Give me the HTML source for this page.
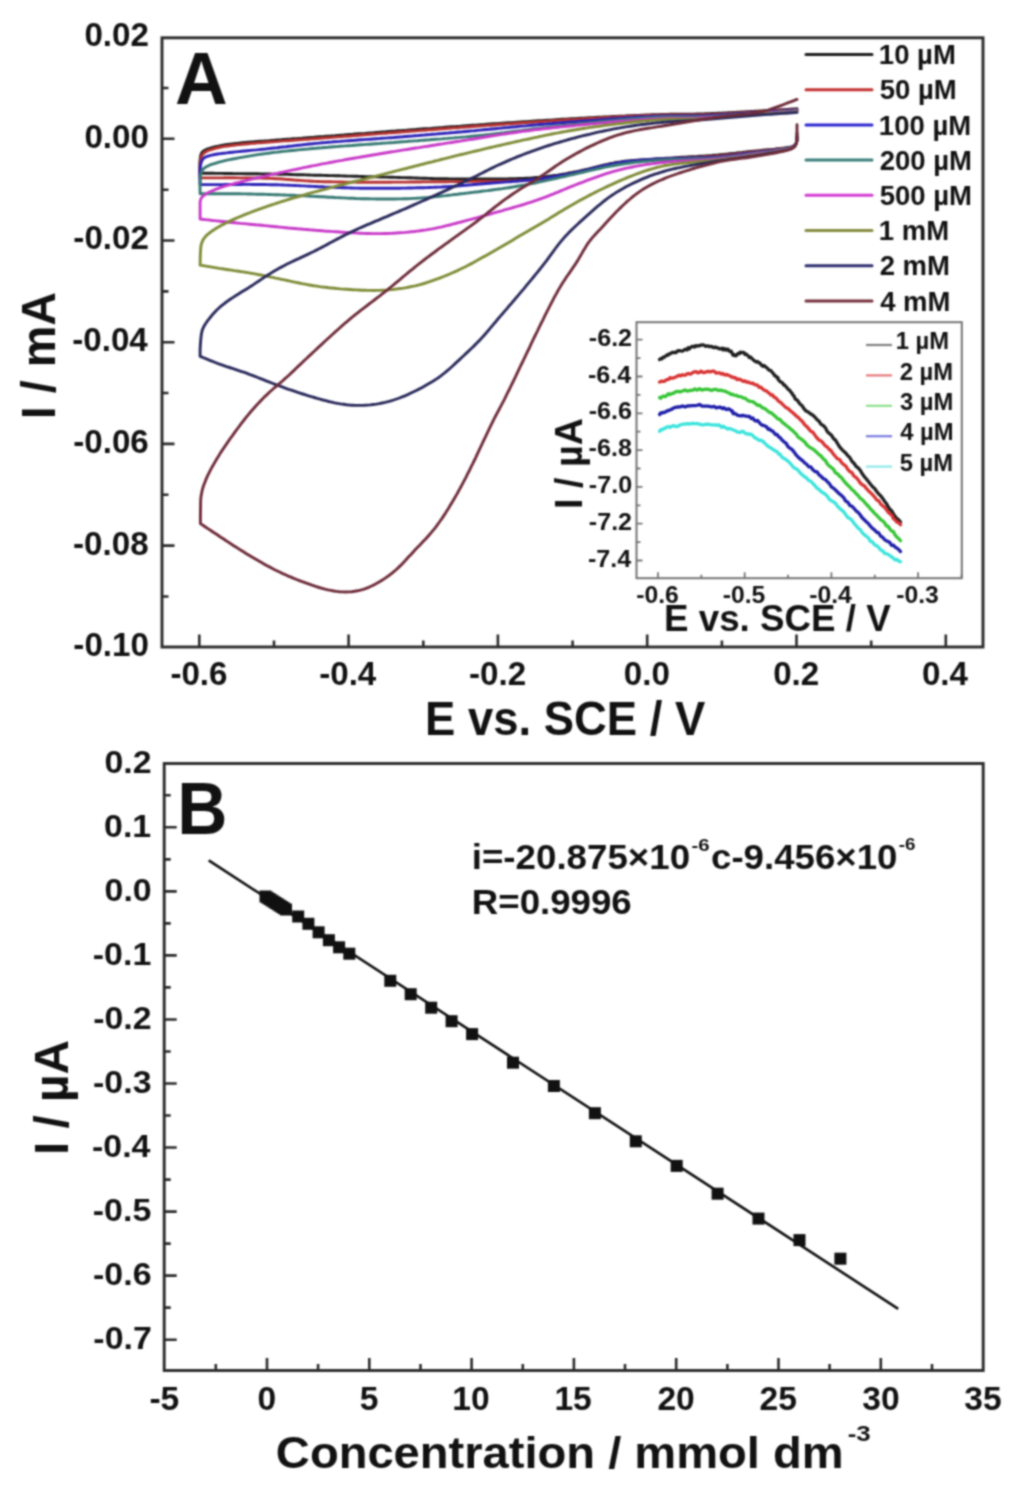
<!DOCTYPE html>
<html><head><meta charset="utf-8"><title>figure</title>
<style>html,body{margin:0;padding:0;background:#fff;}svg{display:block;}</style>
</head><body>
<svg width="1022" height="1501" viewBox="0 0 1022 1501">
<defs><filter id="soft" x="0" y="0" width="1022" height="1501" filterUnits="userSpaceOnUse" color-interpolation-filters="sRGB"><feConvolveMatrix order="5" kernelMatrix="0.00087 0.00695 0.01388 0.00695 0.00087 0.00695 0.05540 0.11068 0.05540 0.00695 0.01388 0.11068 0.22111 0.11068 0.01388 0.00695 0.05540 0.11068 0.05540 0.00695 0.00087 0.00695 0.01388 0.00695 0.00087" edgeMode="duplicate" preserveAlpha="true"/></filter></defs>
<rect width="1022" height="1501" fill="#ffffff"/>
<g filter="url(#soft)">
<rect width="1022" height="1501" fill="#ffffff"/>
<path d="M199.3,647 v-12.5 M348.6,647 v-12.5 M497.9,647 v-12.5 M647.2,647 v-12.5 M796.5,647 v-12.5 M945.8,647 v-12.5 M274.0,647 v-6.5 M423.3,647 v-6.5 M572.6,647 v-6.5 M721.9,647 v-6.5 M871.2,647 v-6.5 M162,138.8 h12.5 M162,240.5 h12.5 M162,342.2 h12.5 M162,443.9 h12.5 M162,545.6 h12.5 M162,88.0 h6.5 M162,189.7 h6.5 M162,291.4 h6.5 M162,393.0 h6.5 M162,494.8 h6.5 M162,596.5 h6.5" stroke="#2a2a2a" stroke-width="2.6" fill="none"/>
<text font-family="'Liberation Sans', sans-serif" font-weight="bold" font-size="33.50" fill="#111" transform="translate(84.38,46.00) scale(0.9900,1)">0.02</text>
<text font-family="'Liberation Sans', sans-serif" font-weight="bold" font-size="33.50" fill="#111" transform="translate(84.41,147.70) scale(0.9900,1)">0.00</text>
<text font-family="'Liberation Sans', sans-serif" font-weight="bold" font-size="33.50" fill="#111" transform="translate(73.34,249.40) scale(0.9900,1)">-0.02</text>
<text font-family="'Liberation Sans', sans-serif" font-weight="bold" font-size="33.50" fill="#111" transform="translate(72.19,351.10) scale(0.9900,1)">-0.04</text>
<text font-family="'Liberation Sans', sans-serif" font-weight="bold" font-size="33.50" fill="#111" transform="translate(73.21,452.80) scale(0.9900,1)">-0.06</text>
<text font-family="'Liberation Sans', sans-serif" font-weight="bold" font-size="33.50" fill="#111" transform="translate(73.03,554.50) scale(0.9900,1)">-0.08</text>
<text font-family="'Liberation Sans', sans-serif" font-weight="bold" font-size="33.50" fill="#111" transform="translate(73.37,656.20) scale(0.9900,1)">-0.10</text>
<text font-family="'Liberation Sans', sans-serif" font-weight="bold" font-size="33.50" fill="#111" transform="translate(170.38,685.00) scale(0.9900,1)">-0.6</text>
<text font-family="'Liberation Sans', sans-serif" font-weight="bold" font-size="33.50" fill="#111" transform="translate(319.17,685.00) scale(0.9900,1)">-0.4</text>
<text font-family="'Liberation Sans', sans-serif" font-weight="bold" font-size="33.50" fill="#111" transform="translate(469.04,685.00) scale(0.9900,1)">-0.2</text>
<text font-family="'Liberation Sans', sans-serif" font-weight="bold" font-size="33.50" fill="#111" transform="translate(623.87,685.00) scale(0.9900,1)">0.0</text>
<text font-family="'Liberation Sans', sans-serif" font-weight="bold" font-size="33.50" fill="#111" transform="translate(773.16,685.00) scale(0.9900,1)">0.2</text>
<text font-family="'Liberation Sans', sans-serif" font-weight="bold" font-size="33.50" fill="#111" transform="translate(921.88,685.00) scale(0.9900,1)">0.4</text>
<text font-family="'Liberation Sans', sans-serif" font-weight="bold" font-size="48.30" fill="#111" transform="translate(425.06,735.00) scale(0.9410,1)">E vs. SCE / V</text>
<g transform="rotate(-90)"><text font-family="'Liberation Sans', sans-serif" font-weight="bold" font-size="48.70" fill="#111" transform="translate(-419.13,55.00) scale(0.9600,1)">I / mA</text></g>
<text font-family="'Liberation Sans', sans-serif" font-weight="bold" font-size="73.80" fill="#111" transform="translate(175.08,103.60) scale(0.9880,1)">A</text>
<path d="M797.0,136.0 L797.0,140.0 L796.4,142.9 L794.9,145.3 L792.3,146.6 L789.4,147.3 L786.4,147.7 L783.4,148.1 L780.5,148.5 L777.5,148.8 L774.5,149.2 L771.5,149.5 L768.5,149.7 L765.5,150.0 L762.6,150.3 L759.6,150.6 L756.6,150.9 L753.6,151.2 L750.6,151.5 L747.6,151.8 L744.6,152.1 L741.7,152.5 L738.7,152.8 L735.7,153.2 L732.7,153.5 L729.7,153.8 L726.8,154.1 L723.8,154.4 L720.8,154.7 L717.8,155.0 L714.8,155.2 L711.8,155.5 L708.8,155.7 L705.8,155.9 L702.8,156.1 L699.8,156.3 L696.9,156.5 L693.9,156.6 L690.9,156.8 L687.9,157.0 L684.9,157.2 L681.9,157.3 L678.9,157.5 L675.9,157.7 L672.9,157.9 L669.9,158.1 L666.9,158.2 L663.9,158.4 L660.9,158.6 L657.9,158.8 L654.9,159.0 L651.9,159.2 L648.9,159.4 L646.0,159.6 L643.0,159.8 L640.0,160.0 L637.0,160.2 L634.0,160.4 L631.0,160.7 L628.0,161.0 L625.0,161.3 L622.1,161.7 L619.1,162.1 L616.1,162.5 L613.2,163.1 L610.2,163.6 L607.3,164.3 L604.4,164.9 L601.5,165.6 L598.5,166.3 L595.6,167.1 L592.7,167.8 L589.8,168.6 L586.9,169.3 L584.0,170.0 L581.1,170.6 L578.1,171.3 L575.2,171.9 L572.3,172.5 L569.3,173.0 L566.4,173.6 L563.4,174.1 L560.4,174.6 L557.5,175.1 L554.5,175.5 L551.6,175.9 L548.6,176.3 L545.6,176.7 L542.6,177.0 L539.6,177.3 L536.6,177.5 L533.7,177.8 L530.7,178.0 L527.7,178.1 L524.7,178.3 L521.7,178.4 L518.7,178.5 L515.7,178.6 L512.7,178.7 L509.7,178.8 L506.7,178.9 L503.7,178.9 L500.7,178.9 L497.7,179.0 L494.7,179.0 L491.7,179.0 L488.7,179.0 L485.7,179.0 L482.7,179.0 L479.7,179.0 L476.7,179.0 L473.7,179.0 L470.7,179.0 L467.7,179.0 L464.7,179.0 L461.7,179.0 L458.7,179.0 L455.7,179.0 L452.7,178.9 L449.7,178.9 L446.7,178.8 L443.7,178.8 L440.7,178.7 L437.7,178.6 L434.7,178.6 L431.7,178.5 L428.7,178.4 L425.7,178.3 L422.7,178.2 L419.7,178.1 L416.7,178.0 L413.7,177.9 L410.7,177.8 L407.7,177.7 L404.7,177.6 L401.7,177.6 L398.7,177.5 L395.7,177.4 L392.7,177.3 L389.7,177.2 L386.7,177.1 L383.7,177.1 L380.7,177.0 L377.7,176.9 L374.7,176.8 L371.7,176.7 L368.7,176.6 L365.7,176.6 L362.7,176.5 L359.7,176.4 L356.7,176.3 L353.7,176.2 L350.7,176.1 L347.7,176.1 L344.7,176.0 L341.7,175.9 L338.7,175.8 L335.7,175.7 L332.7,175.6 L329.7,175.6 L326.7,175.5 L323.7,175.4 L320.7,175.3 L317.7,175.2 L314.7,175.2 L311.7,175.1 L308.7,175.0 L305.7,174.9 L302.7,174.8 L299.7,174.7 L296.7,174.7 L293.7,174.6 L290.7,174.5 L287.7,174.4 L284.7,174.3 L281.8,174.3 L278.8,174.2 L275.8,174.1 L272.8,174.1 L269.8,174.0 L266.8,174.0 L263.8,173.9 L260.8,173.9 L257.8,173.8 L254.8,173.8 L251.8,173.7 L248.8,173.7 L245.8,173.7 L242.8,173.6 L239.8,173.6 L236.8,173.6 L233.8,173.6 L230.8,173.5 L227.8,173.5 L224.8,173.5 L221.8,173.4 L218.8,173.4 L215.8,173.4 L212.8,173.3 L209.8,173.3 L206.8,173.2 L203.8,173.2 L200.8,173.0 L200.1,173.0 L200.0,170.0 L200.0,167.0 L199.9,164.0 L200.0,161.0 L200.3,158.0 L200.8,155.1 L202.0,152.4 L204.2,150.5 L206.9,149.2 L209.7,148.3 L212.6,147.4 L215.5,146.7 L218.5,146.1 L221.4,145.5 L224.4,145.0 L227.3,144.5 L230.3,144.1 L233.3,143.8 L236.3,143.4 L239.2,143.1 L242.2,142.8 L245.2,142.5 L248.2,142.2 L251.2,142.0 L254.2,141.8 L257.2,141.5 L260.2,141.3 L263.2,141.1 L266.1,140.9 L269.1,140.7 L272.1,140.4 L275.1,140.2 L278.1,140.0 L281.1,139.8 L284.1,139.5 L287.1,139.3 L290.1,139.1 L293.1,138.8 L296.1,138.6 L299.1,138.4 L302.0,138.2 L305.0,137.9 L308.0,137.7 L311.0,137.5 L314.0,137.3 L317.0,137.0 L320.0,136.8 L323.0,136.6 L326.0,136.3 L329.0,136.1 L332.0,135.9 L334.9,135.7 L337.9,135.4 L340.9,135.2 L343.9,135.0 L346.9,134.7 L349.9,134.5 L352.9,134.3 L355.9,134.0 L358.9,133.8 L361.9,133.6 L364.9,133.4 L367.9,133.1 L370.8,132.9 L373.8,132.7 L376.8,132.4 L379.8,132.2 L382.8,132.0 L385.8,131.8 L388.8,131.5 L391.8,131.3 L394.8,131.1 L397.8,130.8 L400.8,130.6 L403.7,130.4 L406.7,130.2 L409.7,129.9 L412.7,129.7 L415.7,129.5 L418.7,129.2 L421.7,129.0 L424.7,128.8 L427.7,128.6 L430.7,128.4 L433.7,128.1 L436.7,127.9 L439.6,127.7 L442.6,127.5 L445.6,127.2 L448.6,127.0 L451.6,126.8 L454.6,126.6 L457.6,126.4 L460.6,126.2 L463.6,125.9 L466.6,125.7 L469.6,125.5 L472.6,125.3 L475.6,125.1 L478.5,124.9 L481.5,124.7 L484.5,124.5 L487.5,124.2 L490.5,124.0 L493.5,123.8 L496.5,123.6 L499.5,123.4 L502.5,123.2 L505.5,123.0 L508.5,122.8 L511.5,122.6 L514.5,122.4 L517.4,122.2 L520.4,122.0 L523.4,121.8 L526.4,121.6 L529.4,121.4 L532.4,121.2 L535.4,121.0 L538.4,120.8 L541.4,120.6 L544.4,120.4 L547.4,120.2 L550.4,120.1 L553.4,119.9 L556.4,119.7 L559.4,119.5 L562.4,119.3 L565.4,119.2 L568.4,119.0 L571.3,118.8 L574.3,118.7 L577.3,118.5 L580.3,118.3 L583.3,118.2 L586.3,118.0 L589.3,117.8 L592.3,117.7 L595.3,117.5 L598.3,117.3 L601.3,117.2 L604.3,117.0 L607.3,116.9 L610.3,116.7 L613.3,116.5 L616.3,116.4 L619.3,116.2 L622.3,116.1 L625.3,116.0 L628.3,115.8 L631.3,115.7 L634.3,115.5 L637.3,115.4 L640.3,115.3 L643.3,115.1 L646.2,115.0 L649.2,114.9 L652.2,114.8 L655.2,114.7 L658.2,114.6 L661.2,114.5 L664.2,114.4 L667.2,114.4 L670.2,114.3 L673.2,114.3 L676.2,114.3 L679.2,114.2 L682.2,114.2 L685.2,114.2 L688.2,114.2 L691.2,114.1 L694.2,114.1 L697.2,114.0 L700.2,113.9 L703.2,113.9 L706.2,113.7 L709.2,113.6 L712.2,113.5 L715.2,113.4 L718.2,113.2 L721.2,113.1 L724.2,112.9 L727.2,112.8 L730.2,112.6 L733.2,112.4 L736.2,112.3 L739.2,112.1 L742.2,111.9 L745.2,111.8 L748.2,111.6 L751.2,111.4 L754.2,111.3 L757.2,111.1 L760.2,110.9 L763.1,110.8 L766.1,110.6 L769.1,110.4 L772.1,110.3 L775.1,110.1 L778.1,109.9 L781.1,109.7 L784.1,109.6 L787.1,109.4 L790.1,109.2 L793.1,109.0 L796.1,108.9 L797.0,108.8" stroke="#1e1e1e" stroke-width="2.9" fill="none" stroke-linejoin="round" stroke-linecap="round"/>
<path d="M797.0,137.0 L797.0,140.0 L796.4,142.9 L794.9,145.3 L792.4,146.8 L789.5,147.6 L786.6,148.1 L783.6,148.5 L780.6,148.9 L777.7,149.3 L774.7,149.7 L771.7,150.0 L768.7,150.4 L765.7,150.7 L762.8,151.0 L759.8,151.3 L756.8,151.6 L753.8,151.9 L750.8,152.3 L747.9,152.6 L744.9,153.0 L741.9,153.3 L738.9,153.7 L735.9,154.1 L733.0,154.4 L730.0,154.8 L727.0,155.1 L724.0,155.4 L721.0,155.7 L718.0,155.9 L715.0,156.2 L712.1,156.4 L709.1,156.6 L706.1,156.8 L703.1,157.0 L700.1,157.1 L697.1,157.3 L694.1,157.5 L691.1,157.6 L688.1,157.8 L685.1,157.9 L682.1,158.0 L679.1,158.2 L676.1,158.3 L673.1,158.5 L670.1,158.7 L667.1,158.9 L664.1,159.0 L661.1,159.2 L658.1,159.4 L655.2,159.6 L652.2,159.8 L649.2,160.0 L646.2,160.3 L643.2,160.5 L640.2,160.7 L637.2,160.9 L634.2,161.2 L631.2,161.5 L628.2,161.8 L625.3,162.2 L622.3,162.6 L619.3,163.0 L616.4,163.5 L613.4,164.1 L610.5,164.7 L607.6,165.3 L604.6,166.0 L601.7,166.7 L598.8,167.5 L595.9,168.3 L593.0,169.0 L590.1,169.8 L587.2,170.6 L584.3,171.3 L581.4,172.0 L578.5,172.7 L575.6,173.3 L572.6,173.9 L569.7,174.6 L566.8,175.1 L563.8,175.7 L560.9,176.2 L557.9,176.8 L554.9,177.3 L552.0,177.7 L549.0,178.1 L546.0,178.5 L543.1,178.9 L540.1,179.2 L537.1,179.5 L534.1,179.8 L531.1,180.0 L528.1,180.2 L525.1,180.4 L522.1,180.5 L519.1,180.7 L516.1,180.8 L513.1,180.9 L510.1,180.9 L507.1,181.0 L504.1,181.1 L501.1,181.1 L498.1,181.2 L495.1,181.2 L492.1,181.2 L489.1,181.3 L486.1,181.3 L483.1,181.3 L480.1,181.3 L477.1,181.3 L474.1,181.4 L471.1,181.4 L468.1,181.4 L465.1,181.4 L462.1,181.5 L459.1,181.5 L456.1,181.6 L453.1,181.6 L450.1,181.6 L447.1,181.7 L444.1,181.7 L441.1,181.7 L438.1,181.8 L435.1,181.8 L432.1,181.8 L429.1,181.9 L426.1,181.9 L423.1,181.9 L420.1,182.0 L417.1,182.0 L414.2,182.0 L411.2,182.0 L408.2,182.1 L405.2,182.1 L402.2,182.1 L399.2,182.1 L396.2,182.1 L393.2,182.1 L390.2,182.2 L387.2,182.2 L384.2,182.2 L381.2,182.2 L378.2,182.2 L375.2,182.2 L372.2,182.2 L369.2,182.2 L366.2,182.2 L363.2,182.2 L360.2,182.2 L357.2,182.2 L354.2,182.1 L351.2,182.1 L348.2,182.1 L345.2,182.1 L342.2,182.0 L339.2,182.0 L336.2,181.9 L333.2,181.9 L330.2,181.8 L327.2,181.8 L324.2,181.7 L321.2,181.6 L318.2,181.5 L315.2,181.4 L312.2,181.2 L309.2,181.0 L306.2,180.9 L303.2,180.6 L300.2,180.4 L297.2,180.2 L294.2,180.0 L291.2,179.7 L288.2,179.5 L285.2,179.3 L282.2,179.0 L279.3,178.8 L276.3,178.7 L273.3,178.5 L270.3,178.4 L267.3,178.3 L264.3,178.2 L261.3,178.1 L258.3,178.0 L255.3,178.0 L252.3,178.0 L249.3,177.9 L246.3,177.9 L243.3,177.9 L240.3,177.9 L237.3,177.9 L234.3,177.8 L231.3,177.8 L228.3,177.8 L225.3,177.8 L222.3,177.9 L219.3,177.9 L216.3,177.9 L213.3,177.9 L210.3,177.9 L207.3,177.9 L204.3,177.9 L201.3,177.9 L200.1,177.9 L200.0,174.9 L200.0,171.9 L199.9,168.9 L199.9,165.9 L200.1,162.9 L200.5,159.9 L201.2,157.0 L202.6,154.4 L204.7,152.4 L207.3,150.9 L210.1,149.8 L213.0,149.0 L215.9,148.2 L218.8,147.5 L221.7,146.9 L224.7,146.4 L227.6,146.0 L230.6,145.6 L233.6,145.2 L236.6,144.9 L239.5,144.6 L242.5,144.3 L245.5,144.0 L248.5,143.7 L251.5,143.4 L254.5,143.2 L257.5,142.9 L260.5,142.7 L263.5,142.5 L266.4,142.3 L269.4,142.0 L272.4,141.8 L275.4,141.6 L278.4,141.4 L281.4,141.1 L284.4,140.9 L287.4,140.7 L290.4,140.5 L293.4,140.3 L296.4,140.0 L299.4,139.8 L302.3,139.6 L305.3,139.4 L308.3,139.2 L311.3,138.9 L314.3,138.7 L317.3,138.5 L320.3,138.3 L323.3,138.0 L326.3,137.8 L329.3,137.6 L332.3,137.4 L335.3,137.1 L338.2,136.9 L341.2,136.7 L344.2,136.4 L347.2,136.2 L350.2,136.0 L353.2,135.7 L356.2,135.5 L359.2,135.3 L362.2,135.0 L365.2,134.8 L368.2,134.6 L371.1,134.3 L374.1,134.1 L377.1,133.9 L380.1,133.6 L383.1,133.4 L386.1,133.2 L389.1,132.9 L392.1,132.7 L395.1,132.5 L398.1,132.2 L401.1,132.0 L404.0,131.8 L407.0,131.5 L410.0,131.3 L413.0,131.1 L416.0,130.9 L419.0,130.6 L422.0,130.4 L425.0,130.2 L428.0,129.9 L431.0,129.7 L434.0,129.5 L437.0,129.2 L439.9,129.0 L442.9,128.8 L445.9,128.6 L448.9,128.3 L451.9,128.1 L454.9,127.9 L457.9,127.7 L460.9,127.4 L463.9,127.2 L466.9,127.0 L469.9,126.8 L472.8,126.5 L475.8,126.3 L478.8,126.1 L481.8,125.9 L484.8,125.6 L487.8,125.4 L490.8,125.2 L493.8,125.0 L496.8,124.8 L499.8,124.5 L502.8,124.3 L505.8,124.1 L508.8,123.9 L511.7,123.7 L514.7,123.4 L517.7,123.2 L520.7,123.0 L523.7,122.8 L526.7,122.6 L529.7,122.4 L532.7,122.2 L535.7,122.0 L538.7,121.8 L541.7,121.6 L544.7,121.4 L547.7,121.2 L550.6,121.0 L553.6,120.8 L556.6,120.6 L559.6,120.4 L562.6,120.2 L565.6,120.0 L568.6,119.8 L571.6,119.6 L574.6,119.5 L577.6,119.3 L580.6,119.1 L583.6,118.9 L586.6,118.7 L589.6,118.5 L592.6,118.4 L595.6,118.2 L598.6,118.0 L601.6,117.8 L604.5,117.6 L607.5,117.5 L610.5,117.3 L613.5,117.1 L616.5,117.0 L619.5,116.8 L622.5,116.6 L625.5,116.5 L628.5,116.3 L631.5,116.2 L634.5,116.0 L637.5,115.9 L640.5,115.8 L643.5,115.6 L646.5,115.5 L649.5,115.4 L652.5,115.3 L655.5,115.2 L658.5,115.1 L661.5,115.0 L664.5,115.0 L667.5,114.9 L670.5,114.9 L673.5,114.9 L676.5,114.9 L679.5,115.0 L682.5,115.0 L685.5,115.0 L688.5,115.0 L691.5,115.0 L694.5,115.0 L697.5,115.0 L700.5,114.9 L703.5,114.8 L706.5,114.7 L709.5,114.6 L712.5,114.5 L715.5,114.3 L718.5,114.1 L721.5,114.0 L724.4,113.8 L727.4,113.6 L730.4,113.4 L733.4,113.2 L736.4,113.0 L739.4,112.9 L742.4,112.7 L745.4,112.5 L748.4,112.3 L751.4,112.1 L754.4,111.9 L757.4,111.8 L760.4,111.6 L763.4,111.4 L766.4,111.2 L769.4,111.1 L772.4,110.9 L775.4,110.7 L778.3,110.5 L781.3,110.3 L784.3,110.2 L787.3,110.0 L790.3,109.8 L793.3,109.6 L796.3,109.4 L797.0,109.4" stroke="#b73232" stroke-width="2.9" fill="none" stroke-linejoin="round" stroke-linecap="round"/>
<path d="M797.0,138.0 L797.0,140.0 L796.4,142.9 L795.0,145.4 L792.6,147.0 L789.7,147.9 L786.8,148.5 L783.8,148.9 L780.8,149.4 L777.9,149.8 L774.9,150.2 L771.9,150.6 L768.9,151.0 L766.0,151.3 L763.0,151.7 L760.0,152.0 L757.0,152.4 L754.0,152.7 L751.1,153.1 L748.1,153.5 L745.1,153.8 L742.1,154.2 L739.2,154.6 L736.2,155.0 L733.2,155.4 L730.2,155.7 L727.3,156.1 L724.3,156.4 L721.3,156.6 L718.3,156.9 L715.3,157.1 L712.3,157.3 L709.3,157.4 L706.3,157.6 L703.3,157.7 L700.3,157.8 L697.3,157.9 L694.3,157.9 L691.3,158.0 L688.3,158.1 L685.3,158.1 L682.3,158.2 L679.3,158.3 L676.3,158.4 L673.3,158.5 L670.3,158.6 L667.3,158.7 L664.3,158.8 L661.3,159.0 L658.3,159.1 L655.4,159.3 L652.4,159.5 L649.4,159.7 L646.4,159.9 L643.4,160.1 L640.4,160.3 L637.4,160.6 L634.4,160.9 L631.4,161.2 L628.4,161.5 L625.5,161.8 L622.5,162.2 L619.5,162.7 L616.6,163.2 L613.6,163.7 L610.7,164.3 L607.8,164.9 L604.8,165.6 L601.9,166.3 L599.0,167.0 L596.1,167.8 L593.2,168.5 L590.3,169.3 L587.4,170.0 L584.5,170.7 L581.6,171.4 L578.6,172.0 L575.7,172.7 L572.8,173.3 L569.8,173.9 L566.9,174.4 L563.9,175.0 L561.0,175.5 L558.0,176.0 L555.1,176.5 L552.1,177.0 L549.1,177.4 L546.2,177.9 L543.2,178.3 L540.2,178.7 L537.2,179.1 L534.3,179.4 L531.3,179.8 L528.3,180.1 L525.3,180.4 L522.3,180.7 L519.3,180.9 L516.3,181.2 L513.4,181.4 L510.4,181.7 L507.4,181.9 L504.4,182.1 L501.4,182.4 L498.4,182.6 L495.4,182.8 L492.4,183.0 L489.4,183.3 L486.4,183.5 L483.4,183.7 L480.5,184.0 L477.5,184.2 L474.5,184.5 L471.5,184.8 L468.5,185.0 L465.5,185.3 L462.5,185.5 L459.5,185.8 L456.5,186.0 L453.6,186.3 L450.6,186.5 L447.6,186.7 L444.6,186.8 L441.6,187.0 L438.6,187.1 L435.6,187.2 L432.6,187.4 L429.6,187.5 L426.6,187.6 L423.6,187.7 L420.6,187.7 L417.6,187.8 L414.6,187.9 L411.6,188.0 L408.6,188.0 L405.6,188.1 L402.6,188.1 L399.6,188.2 L396.6,188.2 L393.6,188.2 L390.6,188.2 L387.6,188.3 L384.6,188.3 L381.6,188.3 L378.6,188.3 L375.6,188.3 L372.6,188.3 L369.6,188.3 L366.6,188.2 L363.6,188.2 L360.6,188.2 L357.6,188.1 L354.6,188.1 L351.6,188.0 L348.6,187.9 L345.6,187.8 L342.6,187.7 L339.6,187.6 L336.6,187.5 L333.6,187.4 L330.6,187.2 L327.6,187.1 L324.6,187.0 L321.6,186.8 L318.6,186.7 L315.6,186.5 L312.6,186.4 L309.6,186.2 L306.6,186.1 L303.6,185.9 L300.6,185.8 L297.7,185.6 L294.7,185.5 L291.7,185.4 L288.7,185.2 L285.7,185.1 L282.7,185.0 L279.7,184.9 L276.7,184.8 L273.7,184.7 L270.7,184.7 L267.7,184.6 L264.7,184.5 L261.7,184.5 L258.7,184.5 L255.7,184.5 L252.7,184.5 L249.7,184.4 L246.7,184.4 L243.7,184.4 L240.7,184.5 L237.7,184.5 L234.7,184.5 L231.7,184.5 L228.7,184.5 L225.7,184.5 L222.7,184.6 L219.7,184.6 L216.7,184.6 L213.7,184.6 L210.7,184.6 L207.7,184.6 L204.7,184.6 L201.7,184.5 L200.1,184.4 L200.0,181.4 L199.9,178.4 L199.8,175.4 L199.8,172.4 L200.0,169.4 L200.3,166.4 L200.9,163.5 L201.8,160.7 L203.5,158.3 L206.0,156.8 L208.8,155.8 L211.7,155.1 L214.7,154.5 L217.6,154.0 L220.6,153.6 L223.6,153.2 L226.6,152.9 L229.6,152.5 L232.5,152.2 L235.5,151.9 L238.5,151.6 L241.5,151.3 L244.5,151.0 L247.5,150.7 L250.4,150.4 L253.4,150.1 L256.4,149.9 L259.4,149.6 L262.4,149.3 L265.4,149.0 L268.4,148.6 L271.3,148.3 L274.3,148.0 L277.3,147.7 L280.3,147.3 L283.3,147.0 L286.2,146.7 L289.2,146.3 L292.2,146.0 L295.2,145.6 L298.2,145.3 L301.1,145.0 L304.1,144.6 L307.1,144.3 L310.1,144.0 L313.1,143.7 L316.1,143.4 L319.1,143.1 L322.0,142.8 L325.0,142.6 L328.0,142.3 L331.0,142.1 L334.0,141.8 L337.0,141.6 L340.0,141.4 L343.0,141.1 L346.0,140.9 L349.0,140.7 L351.9,140.5 L354.9,140.3 L357.9,140.0 L360.9,139.8 L363.9,139.6 L366.9,139.4 L369.9,139.2 L372.9,139.0 L375.9,138.8 L378.9,138.6 L381.9,138.3 L384.9,138.1 L387.9,137.9 L390.8,137.7 L393.8,137.5 L396.8,137.2 L399.8,137.0 L402.8,136.8 L405.8,136.5 L408.8,136.3 L411.8,136.1 L414.8,135.8 L417.8,135.6 L420.8,135.3 L423.7,135.1 L426.7,134.8 L429.7,134.6 L432.7,134.3 L435.7,134.1 L438.7,133.8 L441.7,133.6 L444.7,133.3 L447.7,133.1 L450.6,132.8 L453.6,132.6 L456.6,132.3 L459.6,132.0 L462.6,131.8 L465.6,131.5 L468.6,131.2 L471.6,130.9 L474.6,130.7 L477.5,130.4 L480.5,130.1 L483.5,129.8 L486.5,129.5 L489.5,129.3 L492.5,129.0 L495.5,128.7 L498.4,128.4 L501.4,128.1 L504.4,127.8 L507.4,127.6 L510.4,127.3 L513.4,127.0 L516.4,126.7 L519.4,126.4 L522.3,126.1 L525.3,125.9 L528.3,125.6 L531.3,125.3 L534.3,125.0 L537.3,124.8 L540.3,124.5 L543.3,124.2 L546.2,124.0 L549.2,123.7 L552.2,123.5 L555.2,123.2 L558.2,123.0 L561.2,122.7 L564.2,122.5 L567.2,122.3 L570.2,122.0 L573.2,121.8 L576.1,121.6 L579.1,121.3 L582.1,121.1 L585.1,120.8 L588.1,120.6 L591.1,120.4 L594.1,120.2 L597.1,119.9 L600.1,119.7 L603.1,119.5 L606.1,119.3 L609.0,119.0 L612.0,118.8 L615.0,118.6 L618.0,118.4 L621.0,118.2 L624.0,118.0 L627.0,117.8 L630.0,117.6 L633.0,117.4 L636.0,117.2 L639.0,117.0 L642.0,116.9 L645.0,116.7 L648.0,116.6 L651.0,116.4 L654.0,116.3 L657.0,116.2 L660.0,116.1 L663.0,116.0 L666.0,115.9 L669.0,115.9 L672.0,115.9 L675.0,115.9 L678.0,115.9 L681.0,116.0 L683.9,116.0 L686.9,116.0 L689.9,116.0 L692.9,116.0 L695.9,116.0 L698.9,115.9 L701.9,115.9 L704.9,115.8 L707.9,115.6 L710.9,115.5 L713.9,115.3 L716.9,115.1 L719.9,115.0 L722.9,114.8 L725.9,114.6 L728.9,114.3 L731.9,114.1 L734.9,113.9 L737.9,113.7 L740.9,113.5 L743.9,113.3 L746.9,113.1 L749.9,112.9 L752.8,112.7 L755.8,112.5 L758.8,112.4 L761.8,112.2 L764.8,112.0 L767.8,111.8 L770.8,111.6 L773.8,111.4 L776.8,111.2 L779.8,111.1 L782.8,110.9 L785.8,110.7 L788.8,110.5 L791.8,110.3 L794.8,110.1 L797.0,110.0" stroke="#2c22b8" stroke-width="2.9" fill="none" stroke-linejoin="round" stroke-linecap="round"/>
<path d="M797.0,139.0 L797.0,140.0 L796.4,142.9 L795.1,145.5 L792.7,147.2 L789.9,148.2 L787.0,148.8 L784.0,149.3 L781.0,149.8 L778.1,150.3 L775.1,150.7 L772.1,151.2 L769.2,151.6 L766.2,151.9 L763.2,152.3 L760.2,152.7 L757.3,153.1 L754.3,153.5 L751.3,153.9 L748.3,154.3 L745.4,154.7 L742.4,155.1 L739.4,155.5 L736.5,155.9 L733.5,156.3 L730.5,156.6 L727.5,157.0 L724.5,157.3 L721.6,157.6 L718.6,157.8 L715.6,158.1 L712.6,158.3 L709.6,158.4 L706.6,158.6 L703.6,158.7 L700.6,158.8 L697.6,158.8 L694.6,158.9 L691.6,159.0 L688.6,159.0 L685.6,159.1 L682.6,159.1 L679.6,159.2 L676.6,159.3 L673.6,159.4 L670.6,159.5 L667.6,159.6 L664.6,159.8 L661.6,160.0 L658.6,160.2 L655.6,160.4 L652.7,160.6 L649.7,160.9 L646.7,161.2 L643.7,161.4 L640.7,161.8 L637.7,162.1 L634.7,162.4 L631.8,162.8 L628.8,163.2 L625.8,163.6 L622.9,164.1 L619.9,164.5 L616.9,165.0 L614.0,165.5 L611.0,166.1 L608.1,166.6 L605.1,167.2 L602.2,167.8 L599.3,168.5 L596.3,169.1 L593.4,169.8 L590.5,170.4 L587.6,171.1 L584.6,171.8 L581.7,172.5 L578.8,173.2 L575.9,173.8 L573.0,174.5 L570.0,175.2 L567.1,175.9 L564.2,176.6 L561.3,177.2 L558.3,177.9 L555.4,178.5 L552.5,179.2 L549.6,179.8 L546.6,180.4 L543.7,181.1 L540.8,181.7 L537.8,182.3 L534.9,183.0 L532.0,183.6 L529.0,184.1 L526.1,184.7 L523.1,185.3 L520.2,185.8 L517.2,186.3 L514.2,186.8 L511.3,187.2 L508.3,187.7 L505.3,188.1 L502.4,188.6 L499.4,189.0 L496.4,189.4 L493.5,189.8 L490.5,190.2 L487.5,190.6 L484.5,190.9 L481.6,191.3 L478.6,191.7 L475.6,192.0 L472.6,192.4 L469.6,192.8 L466.7,193.1 L463.7,193.5 L460.7,193.8 L457.7,194.2 L454.8,194.5 L451.8,194.9 L448.8,195.2 L445.8,195.6 L442.8,195.9 L439.9,196.3 L436.9,196.6 L433.9,196.9 L430.9,197.2 L427.9,197.5 L424.9,197.7 L421.9,197.9 L418.9,198.1 L415.9,198.3 L412.9,198.4 L410.0,198.6 L407.0,198.7 L404.0,198.8 L401.0,198.9 L398.0,198.9 L395.0,199.0 L392.0,199.0 L389.0,199.0 L386.0,199.0 L383.0,199.0 L380.0,199.0 L377.0,199.0 L374.0,198.9 L371.0,198.9 L368.0,198.8 L365.0,198.8 L362.0,198.7 L359.0,198.6 L356.0,198.5 L353.0,198.3 L350.0,198.2 L347.0,198.1 L344.0,197.9 L341.0,197.8 L338.0,197.6 L335.0,197.5 L332.0,197.3 L329.0,197.2 L326.0,197.0 L323.0,196.8 L320.0,196.7 L317.0,196.5 L314.0,196.4 L311.0,196.2 L308.0,196.0 L305.0,195.9 L302.0,195.7 L299.0,195.6 L296.0,195.5 L293.0,195.3 L290.0,195.2 L287.1,195.1 L284.1,195.0 L281.1,194.9 L278.1,194.8 L275.1,194.7 L272.1,194.6 L269.1,194.5 L266.1,194.4 L263.1,194.3 L260.1,194.2 L257.1,194.2 L254.1,194.1 L251.1,194.0 L248.1,194.0 L245.1,193.9 L242.1,193.9 L239.1,193.8 L236.1,193.8 L233.1,193.7 L230.1,193.7 L227.1,193.7 L224.1,193.7 L221.1,193.7 L218.1,193.7 L215.1,193.7 L212.1,193.7 L209.1,193.7 L206.1,193.7 L203.1,193.7 L200.1,193.7 L200.1,190.7 L200.0,187.7 L200.0,184.7 L200.0,181.7 L200.2,178.7 L200.4,175.7 L201.0,172.8 L202.2,170.1 L204.3,168.0 L206.8,166.5 L209.5,165.2 L212.4,164.2 L215.2,163.3 L218.1,162.4 L221.0,161.6 L223.9,160.9 L226.8,160.2 L229.8,159.6 L232.7,159.0 L235.6,158.5 L238.6,157.9 L241.5,157.4 L244.5,156.9 L247.4,156.4 L250.4,155.9 L253.4,155.4 L256.3,154.9 L259.3,154.4 L262.3,154.0 L265.2,153.6 L268.2,153.2 L271.2,152.8 L274.2,152.4 L277.1,152.1 L280.1,151.7 L283.1,151.4 L286.1,151.1 L289.1,150.8 L292.0,150.5 L295.0,150.2 L298.0,149.9 L301.0,149.6 L304.0,149.3 L307.0,149.1 L310.0,148.8 L313.0,148.5 L315.9,148.3 L318.9,148.0 L321.9,147.8 L324.9,147.5 L327.9,147.3 L330.9,147.0 L333.9,146.8 L336.9,146.6 L339.9,146.3 L342.9,146.1 L345.9,145.9 L348.8,145.7 L351.8,145.5 L354.8,145.2 L357.8,145.0 L360.8,144.8 L363.8,144.6 L366.8,144.4 L369.8,144.2 L372.8,144.0 L375.8,143.8 L378.8,143.6 L381.8,143.3 L384.8,143.1 L387.7,142.9 L390.7,142.7 L393.7,142.5 L396.7,142.2 L399.7,142.0 L402.7,141.8 L405.7,141.6 L408.7,141.3 L411.7,141.1 L414.7,140.9 L417.7,140.7 L420.7,140.4 L423.6,140.2 L426.6,140.0 L429.6,139.8 L432.6,139.5 L435.6,139.3 L438.6,139.1 L441.6,138.9 L444.6,138.6 L447.6,138.4 L450.6,138.1 L453.6,137.9 L456.5,137.6 L459.5,137.4 L462.5,137.1 L465.5,136.9 L468.5,136.6 L471.5,136.3 L474.5,136.0 L477.5,135.7 L480.4,135.4 L483.4,135.1 L486.4,134.8 L489.4,134.5 L492.4,134.1 L495.3,133.8 L498.3,133.4 L501.3,133.0 L504.3,132.7 L507.3,132.3 L510.2,131.9 L513.2,131.5 L516.2,131.1 L519.2,130.7 L522.1,130.4 L525.1,130.0 L528.1,129.6 L531.1,129.2 L534.0,128.8 L537.0,128.5 L540.0,128.1 L543.0,127.7 L545.9,127.4 L548.9,127.0 L551.9,126.7 L554.9,126.4 L557.9,126.0 L560.9,125.7 L563.8,125.4 L566.8,125.1 L569.8,124.8 L572.8,124.5 L575.8,124.2 L578.8,123.9 L581.7,123.5 L584.7,123.2 L587.7,122.9 L590.7,122.7 L593.7,122.4 L596.7,122.1 L599.7,121.8 L602.6,121.5 L605.6,121.2 L608.6,120.9 L611.6,120.6 L614.6,120.4 L617.6,120.1 L620.6,119.8 L623.6,119.6 L626.5,119.3 L629.5,119.1 L632.5,118.8 L635.5,118.6 L638.5,118.4 L641.5,118.2 L644.5,117.9 L647.5,117.7 L650.5,117.6 L653.5,117.4 L656.5,117.2 L659.5,117.1 L662.5,117.0 L665.5,116.9 L668.5,116.9 L671.5,116.8 L674.5,116.9 L677.5,116.9 L680.5,116.9 L683.5,117.0 L686.5,117.0 L689.5,117.0 L692.5,117.0 L695.5,117.0 L698.4,116.9 L701.4,116.9 L704.4,116.8 L707.4,116.6 L710.4,116.5 L713.4,116.3 L716.4,116.1 L719.4,115.9 L722.4,115.7 L725.4,115.4 L728.4,115.2 L731.4,115.0 L734.4,114.8 L737.4,114.5 L740.4,114.3 L743.4,114.1 L746.3,113.9 L749.3,113.7 L752.3,113.5 L755.3,113.3 L758.3,113.1 L761.3,112.9 L764.3,112.7 L767.3,112.5 L770.3,112.3 L773.3,112.1 L776.3,111.9 L779.3,111.7 L782.3,111.5 L785.3,111.3 L788.3,111.2 L791.2,111.0 L794.2,110.8 L797.0,110.6" stroke="#387a74" stroke-width="2.9" fill="none" stroke-linejoin="round" stroke-linecap="round"/>
<path d="M797.0,140.0 L797.0,140.0 L796.4,142.9 L795.1,145.5 L792.8,147.4 L790.1,148.5 L787.2,149.2 L784.2,149.7 L781.3,150.3 L778.3,150.8 L775.3,151.3 L772.4,151.7 L769.4,152.2 L766.4,152.6 L763.5,153.0 L760.5,153.4 L757.5,153.8 L754.6,154.2 L751.6,154.6 L748.6,155.0 L745.6,155.5 L742.7,155.9 L739.7,156.3 L736.7,156.7 L733.8,157.1 L730.8,157.5 L727.8,157.9 L724.8,158.2 L721.8,158.5 L718.9,158.8 L715.9,159.1 L712.9,159.3 L709.9,159.6 L706.9,159.8 L703.9,159.9 L700.9,160.1 L697.9,160.2 L694.9,160.4 L691.9,160.5 L688.9,160.6 L685.9,160.8 L682.9,160.9 L679.9,161.1 L676.9,161.2 L673.9,161.4 L671.0,161.7 L668.0,161.9 L665.0,162.2 L662.0,162.5 L659.0,162.8 L656.0,163.2 L653.1,163.6 L650.1,164.0 L647.1,164.4 L644.2,164.9 L641.2,165.4 L638.2,165.9 L635.3,166.4 L632.4,167.0 L629.4,167.6 L626.5,168.2 L623.6,168.9 L620.6,169.6 L617.7,170.3 L614.8,171.1 L612.0,171.9 L609.1,172.8 L606.2,173.7 L603.4,174.6 L600.5,175.6 L597.7,176.6 L594.9,177.6 L592.1,178.6 L589.2,179.6 L586.4,180.7 L583.6,181.8 L580.8,182.8 L578.0,183.9 L575.2,185.0 L572.4,186.1 L569.7,187.2 L566.9,188.3 L564.1,189.5 L561.3,190.6 L558.6,191.8 L555.8,192.9 L553.0,194.1 L550.2,195.2 L547.4,196.3 L544.6,197.4 L541.8,198.4 L539.0,199.4 L536.2,200.4 L533.3,201.4 L530.5,202.3 L527.6,203.2 L524.8,204.1 L521.9,205.0 L519.0,205.8 L516.1,206.7 L513.3,207.5 L510.4,208.3 L507.5,209.1 L504.6,209.9 L501.7,210.8 L498.8,211.6 L495.9,212.4 L493.1,213.2 L490.2,214.0 L487.3,214.9 L484.4,215.7 L481.5,216.5 L478.6,217.3 L475.7,218.1 L472.8,218.9 L469.9,219.7 L467.0,220.4 L464.1,221.2 L461.2,222.0 L458.3,222.7 L455.4,223.5 L452.5,224.2 L449.6,225.0 L446.7,225.7 L443.8,226.4 L440.9,227.1 L437.9,227.7 L435.0,228.3 L432.1,228.9 L429.1,229.4 L426.1,229.9 L423.2,230.3 L420.2,230.7 L417.2,231.1 L414.3,231.5 L411.3,231.8 L408.3,232.1 L405.3,232.4 L402.3,232.6 L399.3,232.8 L396.3,233.0 L393.3,233.2 L390.3,233.4 L387.3,233.5 L384.3,233.5 L381.3,233.6 L378.3,233.6 L375.3,233.6 L372.3,233.6 L369.3,233.5 L366.3,233.5 L363.4,233.4 L360.4,233.2 L357.4,233.1 L354.4,232.9 L351.4,232.8 L348.4,232.6 L345.4,232.4 L342.4,232.2 L339.4,232.0 L336.4,231.8 L333.4,231.6 L330.4,231.4 L327.4,231.2 L324.4,231.0 L321.4,230.7 L318.4,230.5 L315.5,230.3 L312.5,230.0 L309.5,229.8 L306.5,229.5 L303.5,229.3 L300.5,229.0 L297.5,228.8 L294.5,228.5 L291.5,228.2 L288.6,228.0 L285.6,227.7 L282.6,227.4 L279.6,227.1 L276.6,226.8 L273.6,226.5 L270.6,226.2 L267.7,225.9 L264.7,225.6 L261.7,225.3 L258.7,225.0 L255.7,224.8 L252.7,224.5 L249.7,224.2 L246.7,223.9 L243.8,223.6 L240.8,223.4 L237.8,223.1 L234.8,222.8 L231.8,222.5 L228.8,222.2 L225.9,221.8 L222.9,221.5 L219.9,221.2 L216.9,220.9 L213.9,220.6 L210.9,220.3 L208.0,219.9 L205.0,219.6 L202.0,219.3 L200.1,219.1 L200.1,216.1 L200.1,213.1 L200.1,210.1 L200.1,207.1 L200.1,204.1 L200.2,201.1 L201.1,198.4 L203.0,196.1 L205.4,194.3 L207.9,192.8 L210.6,191.5 L213.4,190.3 L216.2,189.2 L219.0,188.1 L221.8,187.1 L224.7,186.2 L227.5,185.4 L230.4,184.6 L233.3,183.8 L236.2,183.0 L239.1,182.3 L242.0,181.5 L244.9,180.8 L247.9,180.1 L250.8,179.4 L253.7,178.7 L256.6,178.0 L259.5,177.3 L262.5,176.7 L265.4,176.0 L268.3,175.3 L271.2,174.7 L274.2,174.0 L277.1,173.4 L280.0,172.7 L283.0,172.1 L285.9,171.5 L288.8,170.8 L291.8,170.2 L294.7,169.6 L297.6,169.0 L300.6,168.3 L303.5,167.7 L306.4,167.1 L309.4,166.5 L312.3,165.9 L315.3,165.4 L318.2,164.8 L321.1,164.2 L324.1,163.6 L327.0,163.1 L330.0,162.5 L332.9,162.0 L335.9,161.4 L338.8,160.9 L341.8,160.4 L344.7,159.8 L347.7,159.3 L350.7,158.8 L353.6,158.3 L356.6,157.8 L359.5,157.2 L362.5,156.7 L365.4,156.2 L368.4,155.7 L371.4,155.2 L374.3,154.7 L377.3,154.3 L380.2,153.8 L383.2,153.3 L386.2,152.8 L389.1,152.3 L392.1,151.8 L395.0,151.4 L398.0,150.9 L401.0,150.4 L403.9,149.9 L406.9,149.5 L409.8,149.0 L412.8,148.5 L415.8,148.0 L418.7,147.6 L421.7,147.1 L424.7,146.6 L427.6,146.2 L430.6,145.7 L433.6,145.2 L436.5,144.8 L439.5,144.3 L442.4,143.9 L445.4,143.4 L448.4,142.9 L451.3,142.5 L454.3,142.0 L457.3,141.5 L460.2,141.1 L463.2,140.6 L466.2,140.1 L469.1,139.6 L472.1,139.2 L475.0,138.7 L478.0,138.2 L481.0,137.7 L483.9,137.3 L486.9,136.8 L489.8,136.3 L492.8,135.8 L495.8,135.4 L498.7,134.9 L501.7,134.4 L504.7,134.0 L507.6,133.5 L510.6,133.1 L513.6,132.7 L516.5,132.3 L519.5,131.8 L522.5,131.4 L525.5,131.0 L528.4,130.7 L531.4,130.3 L534.4,129.9 L537.4,129.5 L540.3,129.2 L543.3,128.8 L546.3,128.5 L549.3,128.2 L552.3,127.8 L555.2,127.5 L558.2,127.2 L561.2,126.9 L564.2,126.6 L567.2,126.3 L570.2,126.0 L573.2,125.7 L576.1,125.4 L579.1,125.1 L582.1,124.8 L585.1,124.5 L588.1,124.2 L591.1,123.9 L594.1,123.7 L597.0,123.4 L600.0,123.1 L603.0,122.9 L606.0,122.6 L609.0,122.3 L612.0,122.1 L615.0,121.8 L618.0,121.6 L621.0,121.3 L623.9,121.1 L626.9,120.9 L629.9,120.6 L632.9,120.4 L635.9,120.2 L638.9,120.0 L641.9,119.7 L644.9,119.5 L647.9,119.3 L650.9,119.2 L653.9,119.0 L656.9,118.8 L659.9,118.7 L662.9,118.5 L665.9,118.4 L668.9,118.3 L671.9,118.3 L674.9,118.2 L677.9,118.2 L680.9,118.2 L683.9,118.2 L686.9,118.2 L689.9,118.2 L692.9,118.1 L695.9,118.1 L698.8,118.0 L701.8,117.8 L704.8,117.7 L707.8,117.5 L710.8,117.3 L713.8,117.1 L716.8,116.9 L719.8,116.7 L722.8,116.5 L725.8,116.2 L728.8,116.0 L731.8,115.7 L734.8,115.5 L737.7,115.3 L740.7,115.0 L743.7,114.8 L746.7,114.6 L749.7,114.3 L752.7,114.1 L755.7,113.9 L758.7,113.7 L761.7,113.5 L764.7,113.3 L767.7,113.1 L770.7,112.9 L773.7,112.7 L776.7,112.5 L779.6,112.3 L782.6,112.1 L785.6,111.9 L788.6,111.7 L791.6,111.6 L794.6,111.4 L797.0,111.2" stroke="#c93bc9" stroke-width="2.9" fill="none" stroke-linejoin="round" stroke-linecap="round"/>
<path d="M797.0,140.0 L797.0,140.0 L796.4,142.9 L795.2,145.6 L793.0,147.5 L790.3,148.7 L787.4,149.5 L784.4,150.1 L781.5,150.7 L778.5,151.2 L775.6,151.8 L772.6,152.3 L769.7,152.7 L766.7,153.2 L763.7,153.6 L760.8,154.1 L757.8,154.5 L754.8,154.9 L751.9,155.4 L748.9,155.8 L745.9,156.2 L743.0,156.6 L740.0,157.1 L737.0,157.5 L734.0,157.9 L731.1,158.3 L728.1,158.7 L725.1,159.1 L722.1,159.4 L719.2,159.8 L716.2,160.1 L713.2,160.5 L710.2,160.8 L707.2,161.0 L704.2,161.3 L701.3,161.5 L698.3,161.8 L695.3,162.0 L692.3,162.3 L689.3,162.5 L686.3,162.8 L683.3,163.1 L680.3,163.4 L677.4,163.7 L674.4,164.1 L671.4,164.6 L668.5,165.0 L665.5,165.5 L662.6,166.1 L659.6,166.8 L656.7,167.5 L653.8,168.3 L651.0,169.1 L648.1,170.0 L645.2,170.9 L642.4,171.9 L639.6,172.9 L636.8,173.9 L634.0,175.0 L631.2,176.1 L628.4,177.2 L625.6,178.4 L622.9,179.5 L620.1,180.7 L617.4,181.9 L614.6,183.1 L611.9,184.4 L609.1,185.6 L606.4,186.9 L603.7,188.2 L601.0,189.5 L598.3,190.8 L595.7,192.1 L593.0,193.5 L590.3,194.9 L587.7,196.3 L585.0,197.7 L582.4,199.1 L579.7,200.6 L577.1,202.0 L574.5,203.5 L571.9,205.0 L569.3,206.5 L566.7,208.0 L564.1,209.5 L561.6,211.1 L559.0,212.6 L556.4,214.2 L553.9,215.7 L551.3,217.3 L548.8,218.9 L546.2,220.4 L543.6,222.0 L541.1,223.5 L538.5,225.1 L535.9,226.6 L533.3,228.1 L530.7,229.6 L528.1,231.1 L525.5,232.6 L522.9,234.1 L520.3,235.6 L517.7,237.1 L515.1,238.6 L512.6,240.2 L510.0,241.7 L507.4,243.2 L504.8,244.7 L502.2,246.2 L499.6,247.7 L497.0,249.2 L494.4,250.7 L491.8,252.2 L489.2,253.7 L486.6,255.2 L484.0,256.6 L481.4,258.1 L478.7,259.6 L476.1,261.0 L473.5,262.5 L470.9,263.9 L468.2,265.3 L465.5,266.7 L462.8,268.0 L460.1,269.3 L457.4,270.6 L454.7,271.8 L451.9,273.0 L449.2,274.2 L446.4,275.4 L443.6,276.5 L440.9,277.6 L438.1,278.7 L435.2,279.7 L432.4,280.7 L429.6,281.7 L426.7,282.6 L423.9,283.5 L421.0,284.3 L418.1,285.1 L415.2,285.8 L412.2,286.4 L409.3,287.0 L406.4,287.6 L403.4,288.1 L400.4,288.5 L397.5,288.9 L394.5,289.3 L391.5,289.6 L388.5,289.9 L385.5,290.1 L382.5,290.2 L379.5,290.4 L376.5,290.4 L373.6,290.5 L370.6,290.4 L367.6,290.4 L364.6,290.3 L361.6,290.2 L358.6,290.0 L355.6,289.9 L352.6,289.7 L349.6,289.5 L346.6,289.3 L343.6,289.1 L340.6,288.9 L337.6,288.6 L334.6,288.3 L331.6,288.0 L328.7,287.7 L325.7,287.3 L322.7,287.0 L319.7,286.6 L316.8,286.1 L313.8,285.7 L310.8,285.2 L307.9,284.7 L304.9,284.1 L302.0,283.6 L299.0,283.0 L296.1,282.4 L293.2,281.8 L290.2,281.2 L287.3,280.5 L284.4,279.9 L281.4,279.3 L278.5,278.7 L275.6,278.1 L272.6,277.4 L269.7,276.8 L266.8,276.2 L263.8,275.6 L260.9,275.0 L257.9,274.5 L255.0,273.9 L252.0,273.4 L249.1,272.9 L246.1,272.4 L243.1,271.9 L240.2,271.5 L237.2,271.0 L234.2,270.6 L231.3,270.1 L228.3,269.7 L225.3,269.3 L222.4,268.8 L219.4,268.4 L216.4,267.9 L213.5,267.4 L210.5,266.9 L207.6,266.4 L204.6,265.9 L201.7,265.4 L200.1,265.1 L200.2,262.1 L200.2,259.1 L200.3,256.1 L200.4,253.1 L200.6,250.1 L200.8,247.1 L201.3,244.2 L202.3,241.4 L203.7,238.8 L205.6,236.4 L207.7,234.3 L210.1,232.5 L212.5,230.7 L215.1,229.1 L217.6,227.6 L220.2,226.1 L222.9,224.6 L225.5,223.3 L228.2,221.9 L230.9,220.6 L233.6,219.4 L236.4,218.2 L239.1,217.0 L241.9,215.8 L244.7,214.7 L247.5,213.6 L250.3,212.5 L253.1,211.4 L255.9,210.4 L258.7,209.4 L261.5,208.4 L264.4,207.4 L267.2,206.4 L270.0,205.4 L272.9,204.5 L275.7,203.5 L278.6,202.6 L281.4,201.7 L284.3,200.8 L287.2,199.9 L290.0,199.0 L292.9,198.2 L295.8,197.3 L298.7,196.5 L301.5,195.6 L304.4,194.8 L307.3,194.0 L310.2,193.2 L313.1,192.4 L316.0,191.6 L318.9,190.8 L321.8,190.0 L324.7,189.3 L327.6,188.5 L330.5,187.7 L333.4,187.0 L336.3,186.2 L339.2,185.5 L342.1,184.7 L345.0,184.0 L347.9,183.2 L350.8,182.5 L353.7,181.7 L356.6,181.0 L359.5,180.3 L362.4,179.5 L365.3,178.8 L368.3,178.0 L371.2,177.3 L374.1,176.6 L377.0,175.8 L379.9,175.1 L382.8,174.4 L385.7,173.6 L388.6,172.9 L391.5,172.2 L394.4,171.4 L397.3,170.7 L400.2,169.9 L403.2,169.2 L406.1,168.5 L409.0,167.7 L411.9,167.0 L414.8,166.2 L417.7,165.5 L420.6,164.7 L423.5,164.0 L426.4,163.2 L429.3,162.5 L432.2,161.8 L435.1,161.0 L438.0,160.3 L440.9,159.5 L443.8,158.8 L446.8,158.1 L449.7,157.4 L452.6,156.6 L455.5,155.9 L458.4,155.2 L461.3,154.5 L464.2,153.8 L467.1,153.1 L470.1,152.4 L473.0,151.7 L475.9,151.0 L478.8,150.3 L481.7,149.6 L484.7,148.9 L487.6,148.2 L490.5,147.5 L493.4,146.8 L496.3,146.1 L499.3,145.5 L502.2,144.8 L505.1,144.1 L508.0,143.5 L511.0,142.8 L513.9,142.2 L516.8,141.5 L519.8,140.9 L522.7,140.2 L525.6,139.6 L528.5,139.0 L531.5,138.3 L534.4,137.7 L537.3,137.1 L540.3,136.4 L543.2,135.8 L546.2,135.2 L549.1,134.6 L552.0,134.0 L555.0,133.4 L557.9,132.9 L560.9,132.3 L563.8,131.8 L566.8,131.2 L569.7,130.7 L572.7,130.2 L575.6,129.7 L578.6,129.2 L581.6,128.8 L584.5,128.3 L587.5,127.9 L590.5,127.4 L593.4,127.0 L596.4,126.6 L599.4,126.2 L602.4,125.8 L605.3,125.4 L608.3,125.0 L611.3,124.6 L614.3,124.3 L617.2,123.9 L620.2,123.5 L623.2,123.2 L626.2,122.8 L629.1,122.5 L632.1,122.2 L635.1,121.8 L638.1,121.5 L641.1,121.2 L644.1,121.0 L647.1,120.7 L650.0,120.4 L653.0,120.2 L656.0,119.9 L659.0,119.7 L662.0,119.6 L665.0,119.4 L668.0,119.3 L671.0,119.3 L674.0,119.2 L677.0,119.2 L680.0,119.2 L683.0,119.2 L686.0,119.2 L689.0,119.2 L692.0,119.1 L695.0,119.1 L698.0,119.0 L701.0,118.9 L704.0,118.7 L707.0,118.5 L710.0,118.3 L713.0,118.1 L716.0,117.9 L718.9,117.7 L721.9,117.4 L724.9,117.1 L727.9,116.9 L730.9,116.6 L733.9,116.4 L736.9,116.1 L739.9,115.8 L742.9,115.6 L745.8,115.3 L748.8,115.1 L751.8,114.9 L754.8,114.7 L757.8,114.4 L760.8,114.2 L763.8,114.0 L766.8,113.8 L769.8,113.6 L772.8,113.4 L775.8,113.2 L778.8,113.0 L781.8,112.8 L784.8,112.6 L787.7,112.4 L790.7,112.2 L793.7,112.0 L796.7,111.8 L797.0,111.8" stroke="#808c38" stroke-width="2.9" fill="none" stroke-linejoin="round" stroke-linecap="round"/>
<path d="M797.0,133.0 L797.0,140.0 L796.4,142.9 L795.2,145.6 L793.1,147.7 L790.5,149.0 L787.6,149.8 L784.7,150.5 L781.7,151.1 L778.8,151.7 L775.8,152.3 L772.9,152.8 L769.9,153.3 L767.0,153.8 L764.0,154.3 L761.1,154.8 L758.1,155.2 L755.1,155.7 L752.2,156.1 L749.2,156.5 L746.2,157.0 L743.2,157.4 L740.3,157.8 L737.3,158.2 L734.3,158.6 L731.4,159.0 L728.4,159.4 L725.4,159.9 L722.5,160.3 L719.5,160.8 L716.5,161.2 L713.6,161.7 L710.6,162.2 L707.6,162.7 L704.7,163.1 L701.7,163.6 L698.8,164.1 L695.8,164.6 L692.8,165.1 L689.9,165.6 L686.9,166.1 L684.0,166.7 L681.0,167.3 L678.1,167.9 L675.2,168.5 L672.3,169.2 L669.3,169.9 L666.4,170.7 L663.6,171.5 L660.7,172.3 L657.8,173.3 L655.0,174.2 L652.2,175.2 L649.3,176.2 L646.6,177.3 L643.8,178.4 L641.0,179.6 L638.3,180.8 L635.5,182.1 L632.8,183.3 L630.1,184.7 L627.5,186.0 L624.8,187.4 L622.2,188.9 L619.6,190.4 L617.0,191.9 L614.5,193.6 L612.0,195.2 L609.6,196.9 L607.2,198.7 L604.8,200.5 L602.4,202.4 L600.1,204.3 L597.8,206.2 L595.5,208.2 L593.3,210.1 L591.0,212.1 L588.8,214.1 L586.5,216.1 L584.3,218.1 L582.1,220.1 L579.8,222.1 L577.6,224.2 L575.4,226.2 L573.3,228.3 L571.1,230.4 L569.0,232.5 L566.9,234.7 L564.9,236.8 L562.9,239.1 L561.0,241.4 L559.1,243.7 L557.2,246.1 L555.4,248.5 L553.7,250.9 L551.9,253.3 L550.2,255.7 L548.4,258.2 L546.6,260.6 L544.8,262.9 L542.9,265.3 L541.1,267.7 L539.2,270.0 L537.3,272.3 L535.4,274.7 L533.5,277.0 L531.6,279.3 L529.7,281.6 L527.8,283.9 L525.9,286.2 L524.0,288.6 L522.0,290.9 L520.1,293.2 L518.2,295.4 L516.2,297.7 L514.3,300.0 L512.3,302.3 L510.4,304.6 L508.4,306.8 L506.5,309.1 L504.5,311.4 L502.5,313.7 L500.6,315.9 L498.6,318.2 L496.7,320.5 L494.8,322.8 L492.8,325.1 L490.9,327.4 L489.0,329.7 L487.0,332.0 L485.1,334.2 L483.1,336.5 L481.0,338.7 L479.0,340.9 L476.9,343.0 L474.8,345.1 L472.7,347.2 L470.5,349.3 L468.3,351.4 L466.1,353.4 L463.9,355.5 L461.7,357.5 L459.5,359.6 L457.3,361.6 L455.1,363.6 L452.9,365.7 L450.7,367.7 L448.5,369.7 L446.2,371.6 L443.9,373.5 L441.5,375.4 L439.1,377.2 L436.6,378.9 L434.1,380.5 L431.6,382.1 L429.0,383.6 L426.4,385.1 L423.8,386.6 L421.2,388.0 L418.5,389.4 L415.8,390.7 L413.1,392.0 L410.4,393.3 L407.7,394.6 L404.9,395.8 L402.2,396.9 L399.4,398.0 L396.6,399.0 L393.7,400.0 L390.9,400.9 L388.0,401.7 L385.1,402.4 L382.2,403.0 L379.2,403.6 L376.3,404.1 L373.3,404.5 L370.3,404.9 L367.3,405.1 L364.4,405.3 L361.4,405.4 L358.4,405.4 L355.4,405.4 L352.4,405.2 L349.4,405.0 L346.4,404.7 L343.5,404.3 L340.5,403.9 L337.5,403.4 L334.6,402.8 L331.7,402.1 L328.7,401.5 L325.8,400.7 L322.9,400.0 L320.0,399.2 L317.2,398.4 L314.3,397.5 L311.4,396.7 L308.5,395.8 L305.7,394.9 L302.8,394.0 L300.0,393.1 L297.1,392.2 L294.3,391.2 L291.4,390.2 L288.6,389.3 L285.8,388.3 L282.9,387.2 L280.1,386.2 L277.3,385.2 L274.5,384.1 L271.7,383.0 L268.9,381.9 L266.1,380.8 L263.3,379.7 L260.5,378.6 L257.8,377.5 L255.0,376.4 L252.2,375.3 L249.4,374.3 L246.5,373.2 L243.7,372.2 L240.9,371.3 L238.0,370.3 L235.2,369.4 L232.3,368.4 L229.5,367.5 L226.6,366.6 L223.8,365.6 L221.0,364.6 L218.1,363.6 L215.3,362.5 L212.5,361.4 L209.8,360.3 L207.0,359.2 L204.2,358.0 L201.5,356.9 L200.1,356.3 L200.1,353.3 L200.1,350.3 L200.2,347.3 L200.4,344.3 L200.6,341.3 L200.9,338.3 L201.2,335.3 L201.7,332.4 L202.5,329.5 L203.7,326.8 L205.2,324.2 L206.9,321.7 L208.7,319.3 L210.6,317.0 L212.5,314.6 L214.5,312.4 L216.5,310.2 L218.7,308.2 L221.0,306.2 L223.3,304.3 L225.7,302.5 L228.1,300.7 L230.6,299.0 L233.1,297.4 L235.6,295.7 L238.1,294.2 L240.7,292.6 L243.2,291.0 L245.8,289.4 L248.3,287.9 L250.9,286.2 L253.4,284.6 L255.9,282.9 L258.4,281.3 L260.9,279.6 L263.4,277.9 L265.9,276.3 L268.4,274.7 L270.9,273.1 L273.5,271.5 L276.1,270.0 L278.7,268.5 L281.3,267.1 L284.0,265.7 L286.6,264.3 L289.3,263.0 L292.0,261.7 L294.7,260.4 L297.5,259.2 L300.2,257.9 L302.9,256.6 L305.6,255.4 L308.3,254.1 L311.0,252.8 L313.7,251.5 L316.4,250.1 L319.1,248.7 L321.7,247.4 L324.4,246.0 L327.0,244.6 L329.7,243.1 L332.3,241.7 L335.0,240.3 L337.6,238.9 L340.3,237.5 L342.9,236.1 L345.6,234.8 L348.3,233.4 L351.0,232.1 L353.7,230.8 L356.4,229.6 L359.2,228.3 L361.9,227.1 L364.7,225.9 L367.4,224.7 L370.2,223.6 L372.9,222.4 L375.7,221.2 L378.5,220.1 L381.2,218.9 L384.0,217.7 L386.8,216.6 L389.5,215.4 L392.3,214.2 L395.0,213.0 L397.8,211.9 L400.6,210.7 L403.3,209.5 L406.1,208.3 L408.8,207.1 L411.6,205.9 L414.3,204.7 L417.0,203.5 L419.8,202.2 L422.5,201.0 L425.3,199.8 L428.0,198.6 L430.7,197.3 L433.5,196.1 L436.2,194.9 L438.9,193.6 L441.7,192.4 L444.4,191.1 L447.1,189.9 L449.8,188.6 L452.6,187.3 L455.3,186.1 L458.0,184.8 L460.7,183.5 L463.4,182.2 L466.1,180.9 L468.8,179.6 L471.5,178.3 L474.2,177.0 L476.9,175.7 L479.6,174.3 L482.3,173.0 L484.9,171.6 L487.6,170.2 L490.3,168.9 L493.0,167.6 L495.7,166.3 L498.4,165.0 L501.1,163.8 L503.9,162.6 L506.6,161.4 L509.4,160.2 L512.1,159.0 L514.9,157.9 L517.7,156.7 L520.5,155.6 L523.3,154.5 L526.1,153.4 L528.9,152.4 L531.7,151.3 L534.5,150.3 L537.3,149.3 L540.2,148.3 L543.0,147.4 L545.9,146.4 L548.7,145.5 L551.6,144.6 L554.4,143.7 L557.3,142.8 L560.2,142.0 L563.1,141.2 L565.9,140.3 L568.8,139.5 L571.7,138.7 L574.6,138.0 L577.5,137.2 L580.4,136.4 L583.3,135.7 L586.3,135.0 L589.2,134.3 L592.1,133.6 L595.0,132.9 L597.9,132.2 L600.9,131.6 L603.8,131.0 L606.7,130.4 L609.7,129.8 L612.6,129.2 L615.6,128.6 L618.5,128.1 L621.5,127.6 L624.4,127.1 L627.4,126.6 L630.4,126.2 L633.3,125.8 L636.3,125.3 L639.3,124.9 L642.3,124.5 L645.2,124.2 L648.2,123.8 L651.2,123.5 L654.2,123.1 L657.2,122.8 L660.1,122.6 L663.1,122.3 L666.1,122.0 L669.1,121.8 L672.1,121.6 L675.1,121.4 L678.1,121.2 L681.1,121.1 L684.1,120.9 L687.1,120.8 L690.1,120.6 L693.1,120.4 L696.1,120.2 L699.0,120.0 L702.0,119.8 L705.0,119.6 L708.0,119.3 L711.0,119.1 L714.0,118.8 L717.0,118.6 L720.0,118.3 L723.0,118.1 L726.0,117.8 L728.9,117.5 L731.9,117.2 L734.9,117.0 L737.9,116.7 L740.9,116.5 L743.9,116.2 L746.9,116.0 L749.9,115.7 L752.9,115.5 L755.8,115.3 L758.8,115.0 L761.8,114.8 L764.8,114.6 L767.8,114.4 L770.8,114.2 L773.8,114.0 L776.8,113.8 L779.8,113.6 L782.8,113.4 L785.8,113.2 L788.8,113.0 L791.8,112.8 L794.7,112.6 L797.0,112.4" stroke="#2a2a5c" stroke-width="2.9" fill="none" stroke-linejoin="round" stroke-linecap="round"/>
<path d="M797.0,124.6 L797.0,140.0 L796.4,142.9 L795.3,145.6 L793.3,147.8 L790.7,149.2 L787.8,150.1 L784.9,150.9 L782.0,151.5 L779.0,152.1 L776.1,152.8 L773.2,153.3 L770.2,153.9 L767.3,154.4 L764.3,154.9 L761.4,155.4 L758.4,155.9 L755.4,156.4 L752.5,156.8 L749.5,157.2 L746.5,157.7 L743.5,158.1 L740.6,158.4 L737.6,158.8 L734.6,159.2 L731.7,159.6 L728.7,160.1 L725.7,160.6 L722.8,161.1 L719.9,161.7 L716.9,162.4 L714.0,163.0 L711.1,163.8 L708.2,164.5 L705.3,165.3 L702.4,166.0 L699.5,166.8 L696.6,167.7 L693.7,168.5 L690.9,169.4 L688.0,170.3 L685.1,171.2 L682.3,172.1 L679.4,173.0 L676.6,174.0 L673.8,175.0 L670.9,176.0 L668.1,177.0 L665.3,178.1 L662.6,179.3 L659.8,180.5 L657.1,181.7 L654.4,183.0 L651.7,184.4 L649.1,185.8 L646.5,187.3 L643.9,188.8 L641.4,190.4 L638.9,192.1 L636.5,193.9 L634.1,195.7 L631.8,197.5 L629.5,199.5 L627.2,201.4 L625.0,203.5 L622.8,205.5 L620.6,207.6 L618.5,209.7 L616.4,211.8 L614.3,214.0 L612.2,216.2 L610.2,218.3 L608.2,220.5 L606.1,222.8 L604.1,225.0 L602.1,227.2 L600.0,229.4 L598.0,231.5 L595.9,233.7 L593.9,235.9 L592.0,238.2 L590.1,240.5 L588.3,242.9 L586.6,245.4 L585.1,248.0 L583.5,250.5 L582.0,253.1 L580.5,255.7 L579.0,258.3 L577.5,260.9 L575.9,263.4 L574.2,265.9 L572.5,268.4 L570.8,270.9 L569.1,273.3 L567.4,275.8 L565.7,278.2 L564.1,280.7 L562.4,283.3 L560.9,285.8 L559.3,288.4 L557.8,291.0 L556.4,293.6 L554.9,296.2 L553.5,298.9 L552.1,301.6 L550.8,304.2 L549.4,306.9 L548.0,309.6 L546.7,312.2 L545.3,314.9 L544.0,317.6 L542.7,320.3 L541.3,323.0 L540.0,325.7 L538.7,328.4 L537.4,331.1 L536.0,333.8 L534.7,336.5 L533.4,339.2 L532.1,341.9 L530.8,344.6 L529.6,347.3 L528.3,350.0 L527.0,352.7 L525.7,355.4 L524.4,358.1 L523.1,360.8 L521.8,363.5 L520.5,366.2 L519.2,368.9 L517.9,371.6 L516.6,374.4 L515.3,377.1 L514.0,379.8 L512.7,382.5 L511.4,385.2 L510.1,387.9 L508.8,390.5 L507.4,393.2 L506.1,395.9 L504.8,398.6 L503.4,401.3 L502.0,403.9 L500.6,406.6 L499.2,409.2 L497.8,411.9 L496.4,414.5 L495.0,417.2 L493.6,419.9 L492.3,422.6 L491.0,425.2 L489.7,427.9 L488.4,430.7 L487.1,433.4 L485.8,436.1 L484.5,438.8 L483.2,441.5 L482.0,444.2 L480.7,446.9 L479.4,449.6 L478.1,452.3 L476.8,455.1 L475.6,457.8 L474.3,460.5 L473.0,463.2 L471.6,465.9 L470.3,468.6 L469.0,471.3 L467.6,473.9 L466.3,476.6 L464.9,479.3 L463.5,481.9 L462.1,484.6 L460.7,487.2 L459.2,489.9 L457.8,492.5 L456.3,495.1 L454.8,497.7 L453.3,500.3 L451.8,502.9 L450.2,505.4 L448.7,508.0 L447.1,510.5 L445.5,513.1 L443.8,515.6 L442.2,518.1 L440.5,520.5 L438.7,523.0 L437.0,525.4 L435.2,527.8 L433.3,530.1 L431.4,532.4 L429.4,534.7 L427.4,537.0 L425.4,539.2 L423.3,541.3 L421.3,543.5 L419.2,545.7 L417.1,547.8 L415.0,550.0 L413.0,552.2 L411.0,554.4 L408.9,556.6 L406.9,558.8 L404.9,561.0 L402.8,563.2 L400.7,565.4 L398.6,567.4 L396.4,569.5 L394.1,571.4 L391.8,573.3 L389.4,575.2 L387.0,576.9 L384.5,578.6 L382.0,580.2 L379.5,581.8 L376.9,583.3 L374.2,584.7 L371.6,586.0 L368.8,587.3 L366.1,588.4 L363.3,589.3 L360.4,590.1 L357.5,590.8 L354.6,591.3 L351.6,591.7 L348.6,591.9 L345.6,592.0 L342.7,591.9 L339.7,591.7 L336.7,591.4 L333.8,591.0 L330.8,590.4 L327.9,589.8 L325.0,589.1 L322.1,588.3 L319.2,587.5 L316.3,586.6 L313.5,585.7 L310.6,584.7 L307.8,583.7 L305.0,582.7 L302.2,581.7 L299.4,580.6 L296.6,579.5 L293.8,578.4 L291.0,577.2 L288.3,576.1 L285.5,574.8 L282.8,573.6 L280.1,572.3 L277.4,571.0 L274.7,569.7 L272.0,568.3 L269.4,566.9 L266.7,565.5 L264.1,564.1 L261.5,562.6 L258.9,561.1 L256.3,559.6 L253.7,558.1 L251.1,556.5 L248.6,555.0 L246.0,553.4 L243.5,551.8 L240.9,550.2 L238.4,548.6 L235.9,547.0 L233.3,545.4 L230.8,543.8 L228.3,542.1 L225.8,540.5 L223.3,538.8 L220.8,537.2 L218.3,535.5 L215.8,533.8 L213.3,532.2 L210.8,530.5 L208.3,528.9 L205.8,527.2 L203.3,525.5 L200.8,523.9 L200.4,523.6 L200.4,520.6 L200.4,517.6 L200.4,514.6 L200.5,511.6 L200.5,508.6 L200.6,505.6 L200.6,502.6 L200.7,499.6 L201.0,496.6 L201.5,493.7 L202.1,490.7 L202.9,487.8 L203.8,485.0 L204.9,482.2 L206.0,479.4 L207.2,476.6 L208.5,473.9 L209.8,471.3 L211.2,468.6 L212.7,466.0 L214.2,463.4 L215.7,460.8 L217.2,458.2 L218.8,455.7 L220.4,453.1 L222.0,450.6 L223.7,448.1 L225.4,445.6 L227.1,443.1 L228.8,440.7 L230.5,438.2 L232.3,435.8 L234.0,433.4 L235.8,430.9 L237.6,428.5 L239.4,426.1 L241.2,423.7 L243.0,421.3 L244.8,419.0 L246.7,416.6 L248.6,414.3 L250.5,412.0 L252.5,409.8 L254.5,407.5 L256.5,405.3 L258.6,403.1 L260.6,400.9 L262.7,398.8 L264.8,396.6 L267.0,394.6 L269.1,392.5 L271.4,390.5 L273.6,388.5 L275.9,386.6 L278.2,384.6 L280.5,382.7 L282.7,380.7 L285.0,378.7 L287.2,376.7 L289.4,374.7 L291.6,372.6 L293.8,370.6 L295.9,368.5 L298.1,366.4 L300.3,364.4 L302.5,362.3 L304.6,360.2 L306.8,358.2 L309.0,356.1 L311.2,354.1 L313.4,352.0 L315.6,350.0 L317.8,347.9 L320.0,345.9 L322.2,343.9 L324.4,341.8 L326.6,339.8 L328.8,337.8 L331.0,335.7 L333.2,333.7 L335.5,331.7 L337.7,329.7 L339.9,327.7 L342.2,325.7 L344.4,323.7 L346.7,321.8 L349.0,319.9 L351.3,317.9 L353.6,316.0 L356.0,314.2 L358.3,312.3 L360.7,310.4 L363.1,308.6 L365.4,306.8 L367.8,305.0 L370.2,303.2 L372.6,301.4 L375.0,299.5 L377.4,297.7 L379.8,295.9 L382.1,294.0 L384.5,292.2 L386.8,290.3 L389.2,288.4 L391.5,286.5 L393.8,284.6 L396.1,282.7 L398.4,280.8 L400.7,278.9 L403.0,276.9 L405.3,275.0 L407.6,273.1 L409.9,271.2 L412.3,269.3 L414.6,267.4 L416.9,265.5 L419.3,263.6 L421.6,261.8 L424.0,260.0 L426.4,258.1 L428.8,256.3 L431.2,254.5 L433.6,252.8 L436.0,251.0 L438.4,249.2 L440.9,247.4 L443.3,245.7 L445.7,243.9 L448.2,242.2 L450.6,240.4 L453.0,238.6 L455.4,236.9 L457.9,235.1 L460.3,233.4 L462.8,231.6 L465.2,229.9 L467.6,228.1 L470.1,226.4 L472.5,224.6 L474.9,222.8 L477.3,221.0 L479.7,219.2 L482.1,217.4 L484.4,215.5 L486.7,213.6 L489.1,211.7 L491.4,209.9 L493.8,208.0 L496.1,206.1 L498.5,204.3 L500.9,202.5 L503.3,200.7 L505.7,198.9 L508.2,197.2 L510.6,195.5 L513.1,193.8 L515.6,192.1 L518.1,190.5 L520.6,188.9 L523.2,187.3 L525.8,185.8 L528.3,184.2 L530.9,182.7 L533.5,181.2 L536.0,179.6 L538.5,178.0 L541.0,176.3 L543.5,174.6 L546.0,172.9 L548.4,171.2 L550.9,169.5 L553.4,167.7 L555.8,166.0 L558.3,164.4 L560.8,162.7 L563.4,161.1 L565.9,159.6 L568.5,158.0 L571.1,156.5 L573.7,155.0 L576.3,153.5 L578.9,152.1 L581.6,150.7 L584.2,149.3 L586.9,147.9 L589.6,146.6 L592.3,145.3 L595.0,144.1 L597.8,142.8 L600.5,141.6 L603.3,140.4 L606.0,139.3 L608.8,138.2 L611.6,137.1 L614.4,136.1 L617.3,135.2 L620.1,134.3 L623.0,133.5 L625.9,132.7 L628.8,132.0 L631.8,131.3 L634.7,130.7 L637.6,130.1 L640.6,129.5 L643.5,129.0 L646.5,128.5 L649.5,128.0 L652.4,127.6 L655.4,127.1 L658.3,126.6 L661.3,126.2 L664.3,125.7 L667.2,125.2 L670.2,124.7 L673.1,124.2 L676.1,123.7 L679.1,123.2 L682.0,122.7 L685.0,122.2 L687.9,121.7 L690.9,121.2 L693.9,120.7 L696.8,120.3 L699.8,119.8 L702.7,119.3 L705.7,118.8 L708.7,118.4 L711.6,118.0 L714.6,117.5 L717.6,117.1 L720.6,116.7 L723.5,116.4 L726.5,116.0 L729.5,115.7 L732.5,115.4 L735.5,115.1 L738.4,114.8 L741.4,114.5 L744.4,114.2 L747.4,113.9 L750.4,113.6 L753.3,113.2 L756.3,112.7 L759.3,112.2 L762.2,111.6 L765.1,110.9 L768.0,110.1 L770.8,109.2 L773.6,108.2 L776.5,107.1 L779.3,106.1 L782.1,105.1 L784.9,104.0 L787.7,102.9 L790.5,101.9 L793.3,100.8 L796.1,99.7 L797.0,99.4" stroke="#6e2c3a" stroke-width="2.9" fill="none" stroke-linejoin="round" stroke-linecap="round"/>
<rect x="162" y="37.8" width="821" height="609.2" fill="none" stroke="#2a2a2a" stroke-width="2.9"/>
<path d="M806,54.5 H872" stroke="#1e1e1e" stroke-width="3" fill="none" stroke-linecap="round"/>
<text font-family="'Liberation Sans', sans-serif" font-weight="bold" font-size="27.50" fill="#111" transform="translate(878.87,64.20) scale(1.0000,1)">10 µM</text>
<path d="M806,89.7 H872" stroke="#c43030" stroke-width="3" fill="none" stroke-linecap="round"/>
<text font-family="'Liberation Sans', sans-serif" font-weight="bold" font-size="27.50" fill="#111" transform="translate(879.75,99.40) scale(1.0000,1)">50 µM</text>
<path d="M806,124.9 H872" stroke="#2c26d0" stroke-width="3" fill="none" stroke-linecap="round"/>
<text font-family="'Liberation Sans', sans-serif" font-weight="bold" font-size="27.50" fill="#111" transform="translate(878.87,134.60) scale(1.0000,1)">100 µM</text>
<path d="M806,160.1 H872" stroke="#3a7e7a" stroke-width="3" fill="none" stroke-linecap="round"/>
<text font-family="'Liberation Sans', sans-serif" font-weight="bold" font-size="27.50" fill="#111" transform="translate(879.65,169.80) scale(1.0000,1)">200 µM</text>
<path d="M806,195.3 H872" stroke="#d43cd4" stroke-width="3" fill="none" stroke-linecap="round"/>
<text font-family="'Liberation Sans', sans-serif" font-weight="bold" font-size="27.50" fill="#111" transform="translate(879.75,205.00) scale(1.0000,1)">500 µM</text>
<path d="M806,230.5 H872" stroke="#868c40" stroke-width="3" fill="none" stroke-linecap="round"/>
<text font-family="'Liberation Sans', sans-serif" font-weight="bold" font-size="27.50" fill="#111" transform="translate(878.87,240.20) scale(1.0000,1)">1 mM</text>
<path d="M806,265.7 H872" stroke="#2e2e70" stroke-width="3" fill="none" stroke-linecap="round"/>
<text font-family="'Liberation Sans', sans-serif" font-weight="bold" font-size="27.50" fill="#111" transform="translate(879.65,275.40) scale(1.0000,1)">2 mM</text>
<path d="M806,300.9 H872" stroke="#74303c" stroke-width="3" fill="none" stroke-linecap="round"/>
<text font-family="'Liberation Sans', sans-serif" font-weight="bold" font-size="27.50" fill="#111" transform="translate(880.18,310.60) scale(1.0000,1)">4 mM</text>
<rect x="636.5" y="322.2" width="325.29999999999995" height="256.00000000000006" fill="#ffffff" stroke="none"/>
<path d="M658.0,578.2 v-6 M744.7,578.2 v-6 M831.4,578.2 v-6 M918.1,578.2 v-6 M701.3,578.2 v-3.5 M788.0,578.2 v-3.5 M874.8,578.2 v-3.5 M961.5,578.2 v-3.5 M636.5,339.7 h6 M636.5,376.5 h6 M636.5,413.3 h6 M636.5,450.1 h6 M636.5,486.9 h6 M636.5,523.7 h6 M636.5,560.5 h6 M636.5,358.1 h4 M636.5,394.9 h4 M636.5,431.7 h4 M636.5,468.5 h4 M636.5,505.3 h4 M636.5,542.1 h4" stroke="#747474" stroke-width="1.8" fill="none"/>
<text font-family="'Liberation Sans', sans-serif" font-weight="bold" font-size="24.40" fill="#111" transform="translate(588.80,345.70) scale(1.0300,1)">-6.2</text>
<text font-family="'Liberation Sans', sans-serif" font-weight="bold" font-size="24.40" fill="#111" transform="translate(587.93,382.50) scale(1.0300,1)">-6.4</text>
<text font-family="'Liberation Sans', sans-serif" font-weight="bold" font-size="24.40" fill="#111" transform="translate(588.70,419.30) scale(1.0300,1)">-6.6</text>
<text font-family="'Liberation Sans', sans-serif" font-weight="bold" font-size="24.40" fill="#111" transform="translate(588.57,456.10) scale(1.0300,1)">-6.8</text>
<text font-family="'Liberation Sans', sans-serif" font-weight="bold" font-size="24.40" fill="#111" transform="translate(588.82,492.90) scale(1.0300,1)">-7.0</text>
<text font-family="'Liberation Sans', sans-serif" font-weight="bold" font-size="24.40" fill="#111" transform="translate(588.80,529.70) scale(1.0300,1)">-7.2</text>
<text font-family="'Liberation Sans', sans-serif" font-weight="bold" font-size="24.40" fill="#111" transform="translate(587.93,566.50) scale(1.0300,1)">-7.4</text>
<text font-family="'Liberation Sans', sans-serif" font-weight="bold" font-size="24.50" fill="#111" transform="translate(636.14,602.60) scale(1.0100,1)">-0.6</text>
<text font-family="'Liberation Sans', sans-serif" font-weight="bold" font-size="24.50" fill="#111" transform="translate(722.74,602.60) scale(1.0100,1)">-0.5</text>
<text font-family="'Liberation Sans', sans-serif" font-weight="bold" font-size="24.50" fill="#111" transform="translate(809.16,602.60) scale(1.0100,1)">-0.4</text>
<text font-family="'Liberation Sans', sans-serif" font-weight="bold" font-size="24.50" fill="#111" transform="translate(896.24,602.60) scale(1.0100,1)">-0.3</text>
<text font-family="'Liberation Sans', sans-serif" font-weight="bold" font-size="37.80" fill="#111" transform="translate(664.04,631.00) scale(0.9720,1)">E vs. SCE / V</text>
<g transform="rotate(-90)"><text font-family="'Liberation Sans', sans-serif" font-weight="bold" font-size="38.50" fill="#111" transform="translate(-508.92,581.50) scale(0.9790,1)">I / µA</text></g>
<path d="M659.6,359.6 L660.8,358.6 L661.9,358.9 L663.0,357.2 L664.2,357.4 L665.3,356.4 L666.5,355.2 L667.6,355.4 L668.8,354.0 L670.0,354.1 L671.3,352.9 L672.8,352.4 L674.3,352.5 L675.9,352.7 L677.5,350.9 L679.2,350.6 L680.8,350.9 L682.4,351.1 L684.0,350.0 L685.5,349.2 L687.0,349.9 L688.2,347.8 L689.3,348.9 L690.4,347.5 L691.5,346.8 L692.5,346.4 L693.6,346.4 L694.6,347.0 L695.7,345.6 L696.8,346.1 L697.9,346.1 L699.1,345.5 L700.3,345.7 L701.6,344.9 L702.9,344.9 L704.1,345.3 L705.4,346.3 L706.7,346.0 L708.0,345.9 L709.2,346.6 L710.5,346.5 L711.8,346.4 L713.1,347.5 L714.4,347.5 L715.7,347.0 L716.9,347.8 L718.2,348.0 L719.5,348.9 L720.7,348.9 L721.9,348.3 L723.0,349.9 L723.9,348.5 L724.8,349.2 L725.6,350.0 L726.5,349.1 L727.3,349.9 L728.1,349.3 L728.8,350.7 L729.5,351.1 L730.2,351.1 L730.8,352.0 L731.2,351.3 L731.6,352.4 L731.9,352.7 L732.1,353.1 L732.4,353.4 L732.7,354.5 L732.9,355.1 L733.2,354.7 L733.6,355.3 L734.0,354.4 L734.6,355.6 L735.3,355.4 L736.0,355.8 L736.8,355.1 L737.6,353.8 L738.4,353.5 L739.3,353.7 L740.1,352.2 L741.0,352.8 L741.8,352.3 L742.8,352.4 L743.9,352.7 L745.0,354.5 L746.0,353.9 L747.1,354.9 L748.2,355.9 L749.3,357.5 L750.5,356.9 L751.6,358.3 L752.7,359.2 L753.9,360.5 L755.2,361.2 L756.5,362.0 L757.8,361.7 L759.0,362.8 L760.3,363.5 L761.6,365.2 L762.8,366.2 L764.0,365.5 L765.2,366.4 L766.2,367.3 L767.2,368.0 L768.2,369.3 L769.2,370.2 L770.2,370.4 L771.1,370.7 L772.0,372.3 L772.9,373.0 L773.8,374.1 L774.6,375.6 L775.3,375.8 L776.0,376.2 L776.6,377.1 L777.2,377.9 L777.8,377.5 L778.4,379.7 L779.0,380.3 L779.7,381.2 L780.3,381.8 L781.0,381.8 L781.9,382.7 L782.7,383.2 L783.7,385.1 L784.6,385.0 L785.5,386.0 L786.5,387.3 L787.4,388.2 L788.4,389.6 L789.4,390.1 L790.3,391.1 L791.3,392.6 L792.3,393.7 L793.2,395.4 L794.1,396.0 L795.1,398.8 L796.1,399.6 L797.1,400.1 L798.2,401.6 L799.3,403.1 L800.5,404.5 L802.2,405.8 L804.1,408.9 L806.1,411.0 L808.2,411.9 L810.4,413.8 L812.6,415.0 L814.8,417.0 L816.9,419.4 L819.1,421.3 L821.1,424.4 L823.2,425.5 L825.3,427.6 L827.4,431.7 L829.4,433.4 L831.4,435.2 L833.5,438.5 L835.5,440.1 L837.5,443.5 L839.6,446.9 L841.6,449.2 L843.7,451.3 L845.7,453.0 L847.8,455.6 L849.9,457.7 L851.9,461.3 L854.0,463.3 L856.0,466.2 L858.1,467.9 L860.2,470.2 L862.2,473.8 L864.3,476.6 L866.4,479.0 L868.4,481.5 L870.5,484.2 L872.6,486.7 L874.6,488.4 L876.7,491.5 L878.7,493.8 L880.7,495.8 L882.7,498.4 L884.5,501.2 L886.4,503.5 L888.1,506.6 L889.9,509.4 L891.7,510.8 L893.4,514.0 L895.2,516.4 L897.0,518.7 L898.7,519.9 L900.5,522.0" stroke="#1e1e1e" stroke-width="3.3" fill="none" stroke-linejoin="round" stroke-linecap="round"/>
<path d="M659.6,382.1 L660.8,381.6 L661.9,381.1 L663.0,381.4 L664.2,381.4 L665.3,380.8 L666.5,379.7 L667.6,379.5 L668.8,379.3 L670.0,377.6 L671.3,378.2 L672.8,378.2 L674.3,377.5 L675.8,377.0 L677.4,376.1 L679.0,375.2 L680.6,375.9 L682.2,374.7 L683.8,375.2 L685.4,375.2 L687.0,373.8 L688.5,373.5 L690.1,374.2 L691.6,373.5 L693.2,372.2 L694.7,371.9 L696.2,371.7 L697.8,372.8 L699.4,372.5 L701.0,371.1 L702.6,372.3 L704.4,372.5 L706.3,371.9 L708.2,371.4 L710.2,371.9 L712.1,371.2 L714.1,371.2 L716.0,373.1 L717.9,372.8 L719.7,372.9 L721.4,374.0 L722.8,373.4 L724.1,374.6 L725.4,375.0 L726.6,374.4 L727.8,374.9 L729.0,375.5 L730.2,376.0 L731.4,377.1 L732.7,377.0 L734.0,377.8 L735.5,377.7 L737.0,379.6 L738.6,379.0 L740.1,379.6 L741.7,380.3 L743.3,381.3 L744.9,380.9 L746.5,382.2 L748.1,382.0 L749.6,382.7 L751.2,383.3 L752.8,383.1 L754.4,384.5 L755.9,384.8 L757.5,385.2 L759.1,387.4 L760.6,387.1 L762.2,388.5 L763.7,389.9 L765.2,390.5 L766.7,391.1 L768.2,392.5 L769.7,393.6 L771.1,395.1 L772.6,395.0 L774.0,397.0 L775.5,397.7 L776.9,399.0 L778.4,401.1 L780.0,401.9 L781.9,403.6 L783.9,405.6 L786.0,407.6 L788.0,408.5 L790.1,410.5 L792.2,412.2 L794.3,414.0 L796.4,416.2 L798.5,417.7 L800.5,419.8 L802.6,421.7 L804.7,424.7 L806.7,426.4 L808.8,428.9 L810.8,431.3 L812.9,432.3 L814.9,435.1 L817.0,438.0 L819.0,440.0 L821.1,440.9 L823.1,443.0 L825.2,445.7 L827.2,447.0 L829.3,449.4 L831.4,451.1 L833.4,454.2 L835.5,456.5 L837.5,458.8 L839.6,459.5 L841.6,462.6 L843.7,464.6 L845.7,465.9 L847.8,469.4 L849.9,471.7 L851.9,472.6 L854.0,476.1 L856.0,477.3 L858.1,479.7 L860.1,482.8 L862.2,484.7 L864.3,485.7 L866.3,488.4 L868.4,490.7 L870.5,492.6 L872.5,494.6 L874.6,497.0 L876.7,499.9 L878.7,500.8 L880.7,504.0 L882.7,505.9 L884.5,507.1 L886.3,509.6 L888.1,512.1 L889.9,513.8 L891.7,514.9 L893.4,518.5 L895.2,520.0 L897.0,522.2 L898.7,522.6 L900.5,524.8" stroke="#d83232" stroke-width="3.3" fill="none" stroke-linejoin="round" stroke-linecap="round"/>
<path d="M659.6,397.5 L660.7,398.3 L661.9,396.9 L663.0,396.2 L664.1,396.2 L665.2,396.6 L666.3,395.9 L667.5,394.5 L668.7,393.8 L669.9,394.8 L671.3,393.7 L673.3,393.4 L675.4,391.8 L677.7,391.3 L680.1,391.9 L682.5,391.0 L685.0,390.0 L687.5,391.2 L690.0,390.4 L692.4,390.4 L694.8,389.0 L697.2,390.2 L699.6,388.7 L702.0,390.1 L704.4,389.3 L706.9,389.1 L709.3,389.6 L711.6,390.4 L713.9,389.4 L716.2,389.4 L718.3,390.4 L720.0,390.2 L721.6,390.4 L723.2,390.8 L724.7,391.1 L726.2,391.8 L727.7,392.5 L729.2,393.0 L730.7,394.4 L732.3,394.1 L734.0,395.1 L736.2,395.3 L738.4,396.4 L740.8,396.6 L743.1,397.9 L745.5,398.4 L747.9,400.6 L750.4,401.3 L752.8,401.7 L755.1,403.3 L757.4,405.3 L759.7,405.1 L762.1,407.7 L764.4,408.4 L766.7,410.0 L769.0,412.1 L771.2,412.9 L773.5,414.7 L775.7,416.7 L777.8,418.9 L780.0,419.4 L782.1,422.1 L784.3,423.7 L786.3,425.5 L788.4,427.0 L790.4,428.9 L792.4,430.3 L794.4,432.4 L796.4,434.3 L798.4,437.4 L800.5,438.5 L802.5,440.1 L804.6,441.7 L806.7,444.8 L808.8,446.6 L810.8,448.0 L812.9,449.0 L815.0,450.7 L817.0,452.6 L819.1,454.7 L821.1,456.1 L823.2,458.7 L825.3,460.4 L827.3,463.9 L829.4,466.1 L831.4,467.5 L833.4,469.2 L835.5,472.8 L837.5,473.8 L839.6,476.1 L841.6,477.7 L843.7,480.6 L845.7,483.0 L847.8,485.2 L849.8,486.9 L851.9,489.6 L853.9,490.9 L856.0,493.6 L858.1,495.4 L860.1,498.2 L862.2,499.7 L864.2,501.7 L866.3,504.3 L868.4,506.3 L870.5,509.0 L872.5,510.9 L874.6,513.4 L876.7,515.3 L878.7,517.4 L880.7,519.7 L882.7,520.9 L884.5,522.7 L886.4,525.8 L888.2,526.3 L889.9,529.2 L891.7,531.0 L893.5,531.8 L895.2,535.2 L897.0,537.2 L898.7,538.6 L900.5,540.7" stroke="#34c434" stroke-width="3.3" fill="none" stroke-linejoin="round" stroke-linecap="round"/>
<path d="M659.6,414.5 L660.7,412.8 L661.9,413.0 L663.0,412.4 L664.1,412.5 L665.2,412.0 L666.3,411.6 L667.5,410.6 L668.7,410.7 L669.9,409.9 L671.3,409.5 L673.3,408.2 L675.4,407.3 L677.7,407.0 L680.1,406.9 L682.5,406.0 L685.0,406.9 L687.5,406.0 L690.0,405.9 L692.4,405.6 L694.8,405.6 L697.2,405.3 L699.6,404.5 L702.1,406.1 L704.6,406.2 L707.0,406.1 L709.4,406.4 L711.8,407.0 L714.1,406.3 L716.3,407.8 L718.3,407.3 L719.8,407.1 L721.2,407.6 L722.6,408.6 L724.0,407.8 L725.4,409.0 L726.6,409.6 L727.8,408.9 L728.9,409.0 L729.9,409.5 L730.8,410.3 L731.2,410.8 L731.6,410.9 L731.9,411.3 L732.1,410.7 L732.4,411.3 L732.6,411.9 L732.9,413.2 L733.2,412.8 L733.5,413.7 L734.0,413.0 L735.1,413.6 L736.3,414.3 L737.8,415.4 L739.4,415.6 L741.1,415.8 L742.8,415.3 L744.6,415.9 L746.3,416.1 L748.0,416.5 L749.6,416.4 L751.2,418.5 L752.8,418.0 L754.4,420.3 L756.0,421.1 L757.5,420.4 L759.1,422.3 L760.6,423.9 L762.2,425.3 L763.7,425.4 L765.2,426.1 L766.7,427.0 L768.2,429.3 L769.7,429.0 L771.1,430.7 L772.6,430.9 L774.0,432.7 L775.5,434.6 L777.0,434.3 L778.5,436.7 L780.0,437.5 L782.0,440.1 L784.0,441.8 L786.0,443.1 L788.0,446.6 L790.0,448.2 L792.1,449.7 L794.2,452.1 L796.3,455.2 L798.4,457.4 L800.5,459.1 L802.5,460.6 L804.5,462.7 L806.6,464.3 L808.7,466.8 L810.8,466.9 L812.9,469.8 L815.0,471.5 L817.0,471.8 L819.1,474.9 L821.1,476.3 L823.2,478.5 L825.3,479.4 L827.3,481.6 L829.4,483.7 L831.4,486.8 L833.5,488.2 L835.5,489.9 L837.5,492.1 L839.6,493.9 L841.6,495.6 L843.7,497.7 L845.7,501.1 L847.8,502.2 L849.8,505.4 L851.9,506.2 L854.0,508.3 L856.0,510.8 L858.1,512.3 L860.1,514.7 L862.2,517.8 L864.3,519.8 L866.3,521.7 L868.4,523.6 L870.4,526.2 L872.5,528.4 L874.5,529.8 L876.6,532.1 L878.6,532.9 L880.7,536.1 L882.7,537.4 L884.5,539.5 L886.3,540.8 L888.1,541.5 L889.8,542.5 L891.6,545.4 L893.4,545.2 L895.2,547.2 L896.9,548.2 L898.7,549.5 L900.5,551.6" stroke="#1e1ea8" stroke-width="3.3" fill="none" stroke-linejoin="round" stroke-linecap="round"/>
<path d="M659.6,431.3 L660.8,429.6 L661.9,429.9 L663.0,428.8 L664.1,428.9 L665.2,428.1 L666.3,427.3 L667.5,426.9 L668.7,426.6 L670.0,427.5 L671.3,426.5 L673.3,425.6 L675.5,426.5 L677.7,426.3 L680.1,425.0 L682.5,424.2 L685.0,424.1 L687.5,423.7 L690.0,424.0 L692.4,423.4 L694.8,423.6 L697.2,423.6 L699.6,424.2 L702.0,424.8 L704.4,424.7 L706.9,424.2 L709.3,424.4 L711.6,424.8 L713.9,424.8 L716.2,425.1 L718.3,424.9 L720.0,425.6 L721.7,427.3 L723.3,426.2 L724.8,427.4 L726.4,428.1 L727.9,429.1 L729.4,428.4 L730.9,429.0 L732.4,429.5 L734.0,430.2 L735.6,430.7 L737.1,432.0 L738.7,432.1 L740.3,432.5 L741.9,431.2 L743.4,431.6 L745.0,433.2 L746.5,433.9 L748.1,433.7 L749.6,434.5 L751.2,434.1 L752.8,435.6 L754.4,437.4 L756.0,438.2 L757.5,439.2 L759.1,440.4 L760.6,440.1 L762.2,440.9 L763.7,442.1 L765.2,443.7 L766.7,445.0 L768.2,446.5 L769.7,447.2 L771.1,448.1 L772.5,449.3 L774.0,449.9 L775.5,451.2 L776.9,451.4 L778.5,454.0 L780.0,454.2 L781.9,457.1 L783.9,458.3 L785.9,459.5 L788.0,461.1 L790.1,463.2 L792.2,465.8 L794.2,467.9 L796.3,468.7 L798.4,470.6 L800.5,473.2 L802.6,475.1 L804.6,476.6 L806.7,478.1 L808.7,480.5 L810.8,481.2 L812.9,483.5 L814.9,485.5 L817.0,488.2 L819.1,489.4 L821.1,491.7 L823.2,492.8 L825.2,494.2 L827.3,496.1 L829.4,499.3 L831.4,500.7 L833.5,501.9 L835.5,503.3 L837.5,506.1 L839.6,508.4 L841.6,510.0 L843.7,511.8 L845.8,514.7 L847.8,517.4 L849.9,518.4 L851.9,520.3 L853.9,523.1 L856.0,525.5 L858.0,528.1 L860.1,529.4 L862.2,532.6 L864.2,534.6 L866.3,536.2 L868.3,537.7 L870.3,541.1 L872.4,541.9 L874.5,544.7 L876.5,545.6 L878.6,547.3 L880.6,550.0 L882.7,550.8 L884.5,553.3 L886.3,553.7 L888.0,554.3 L889.8,555.5 L891.6,556.9 L893.4,558.3 L895.2,559.9 L896.9,559.4 L898.7,560.9 L900.5,561.7" stroke="#3ce4dc" stroke-width="3.3" fill="none" stroke-linejoin="round" stroke-linecap="round"/>
<rect x="636.5" y="322.2" width="325.29999999999995" height="256.00000000000006" fill="none" stroke="#747474" stroke-width="2"/>
<path d="M866,345.0 H892" stroke="#808080" stroke-width="2.2" fill="none"/>
<text font-family="'Liberation Sans', sans-serif" font-weight="bold" font-size="23.80" fill="#111" transform="translate(895.70,349.20) scale(1.0000,1)">1 µM</text>
<path d="M866,375.4 H892" stroke="#e87878" stroke-width="2.2" fill="none"/>
<text font-family="'Liberation Sans', sans-serif" font-weight="bold" font-size="23.80" fill="#111" transform="translate(899.67,379.60) scale(1.0000,1)">2 µM</text>
<path d="M866,405.8 H892" stroke="#8ce08c" stroke-width="2.2" fill="none"/>
<text font-family="'Liberation Sans', sans-serif" font-weight="bold" font-size="23.80" fill="#111" transform="translate(899.95,410.00) scale(1.0000,1)">3 µM</text>
<path d="M866,436.2 H892" stroke="#7a7ae0" stroke-width="2.2" fill="none"/>
<text font-family="'Liberation Sans', sans-serif" font-weight="bold" font-size="23.80" fill="#111" transform="translate(900.14,440.40) scale(1.0000,1)">4 µM</text>
<path d="M866,466.6 H892" stroke="#8ee8e8" stroke-width="2.2" fill="none"/>
<text font-family="'Liberation Sans', sans-serif" font-weight="bold" font-size="23.80" fill="#111" transform="translate(899.77,470.80) scale(1.0000,1)">5 µM</text>
<path d="M267.0,1370.5 v-12.5 M369.3,1370.5 v-12.5 M471.6,1370.5 v-12.5 M573.9,1370.5 v-12.5 M676.2,1370.5 v-12.5 M778.5,1370.5 v-12.5 M880.8,1370.5 v-12.5 M215.8,1370.5 v-6.5 M318.1,1370.5 v-6.5 M420.5,1370.5 v-6.5 M522.8,1370.5 v-6.5 M625.0,1370.5 v-6.5 M727.4,1370.5 v-6.5 M829.6,1370.5 v-6.5 M932.0,1370.5 v-6.5 M164.2,827.3 h12.5 M164.2,891.4 h12.5 M164.2,955.4 h12.5 M164.2,1019.5 h12.5 M164.2,1083.5 h12.5 M164.2,1147.5 h12.5 M164.2,1211.6 h12.5 M164.2,1275.6 h12.5 M164.2,1339.7 h12.5 M164.2,795.3 h6.5 M164.2,859.4 h6.5 M164.2,923.4 h6.5 M164.2,987.4 h6.5 M164.2,1051.5 h6.5 M164.2,1115.5 h6.5 M164.2,1179.6 h6.5 M164.2,1243.6 h6.5 M164.2,1307.6 h6.5" stroke="#2a2a2a" stroke-width="2.6" fill="none"/>
<text font-family="'Liberation Sans', sans-serif" font-weight="bold" font-size="32.00" fill="#111" transform="translate(104.50,772.80) scale(1.0600,1)">0.2</text>
<text font-family="'Liberation Sans', sans-serif" font-weight="bold" font-size="32.00" fill="#111" transform="translate(104.09,836.84) scale(1.0600,1)">0.1</text>
<text font-family="'Liberation Sans', sans-serif" font-weight="bold" font-size="32.00" fill="#111" transform="translate(104.54,900.88) scale(1.0600,1)">0.0</text>
<text font-family="'Liberation Sans', sans-serif" font-weight="bold" font-size="32.00" fill="#111" transform="translate(92.80,964.92) scale(1.0600,1)">-0.1</text>
<text font-family="'Liberation Sans', sans-serif" font-weight="bold" font-size="32.00" fill="#111" transform="translate(93.21,1028.96) scale(1.0600,1)">-0.2</text>
<text font-family="'Liberation Sans', sans-serif" font-weight="bold" font-size="32.00" fill="#111" transform="translate(93.08,1093.00) scale(1.0600,1)">-0.3</text>
<text font-family="'Liberation Sans', sans-serif" font-weight="bold" font-size="32.00" fill="#111" transform="translate(92.03,1157.04) scale(1.0600,1)">-0.4</text>
<text font-family="'Liberation Sans', sans-serif" font-weight="bold" font-size="32.00" fill="#111" transform="translate(92.80,1221.08) scale(1.0600,1)">-0.5</text>
<text font-family="'Liberation Sans', sans-serif" font-weight="bold" font-size="32.00" fill="#111" transform="translate(93.08,1285.12) scale(1.0600,1)">-0.6</text>
<text font-family="'Liberation Sans', sans-serif" font-weight="bold" font-size="32.00" fill="#111" transform="translate(93.34,1349.16) scale(1.0600,1)">-0.7</text>
<text font-family="'Liberation Sans', sans-serif" font-weight="bold" font-size="32.30" fill="#111" transform="translate(149.38,1410.30) scale(1.0400,1)">-5</text>
<text font-family="'Liberation Sans', sans-serif" font-weight="bold" font-size="32.30" fill="#111" transform="translate(257.48,1410.30) scale(1.0400,1)">0</text>
<text font-family="'Liberation Sans', sans-serif" font-weight="bold" font-size="32.30" fill="#111" transform="translate(359.71,1410.30) scale(1.0400,1)">5</text>
<text font-family="'Liberation Sans', sans-serif" font-weight="bold" font-size="32.30" fill="#111" transform="translate(452.35,1410.30) scale(1.0400,1)">10</text>
<text font-family="'Liberation Sans', sans-serif" font-weight="bold" font-size="32.30" fill="#111" transform="translate(554.43,1410.30) scale(1.0400,1)">15</text>
<text font-family="'Liberation Sans', sans-serif" font-weight="bold" font-size="32.30" fill="#111" transform="translate(657.42,1410.30) scale(1.0400,1)">20</text>
<text font-family="'Liberation Sans', sans-serif" font-weight="bold" font-size="32.30" fill="#111" transform="translate(759.50,1410.30) scale(1.0400,1)">25</text>
<text font-family="'Liberation Sans', sans-serif" font-weight="bold" font-size="32.30" fill="#111" transform="translate(862.22,1410.30) scale(1.0400,1)">30</text>
<text font-family="'Liberation Sans', sans-serif" font-weight="bold" font-size="32.30" fill="#111" transform="translate(964.30,1410.30) scale(1.0400,1)">35</text>
<text font-family="'Liberation Sans', sans-serif" font-weight="bold" font-size="44.70" fill="#111" transform="translate(275.87,1467.60) scale(1.0540,1)">Concentration / mmol dm</text>
<text font-family="'Liberation Sans', sans-serif" font-weight="bold" font-size="21.42" fill="#111" transform="translate(847.69,1440.56) scale(1.2100,1)">-3</text>
<g transform="rotate(-90)"><text font-family="'Liberation Sans', sans-serif" font-weight="bold" font-size="49.00" fill="#111" transform="translate(-1154.89,67.60) scale(0.9730,1)">I / µA</text></g>
<text font-family="'Liberation Sans', sans-serif" font-weight="bold" font-size="74.70" fill="#111" transform="translate(177.15,834.20) scale(0.9300,1)">B</text>
<path d="M208.7,860.4 L898.2,1308.8" stroke="#111" stroke-width="2.6" fill="none"/>
<rect x="259.5" y="890.5" width="12" height="12" fill="#111"/>
<rect x="261.5" y="891.8" width="12" height="12" fill="#111"/>
<rect x="263.6" y="893.1" width="12" height="12" fill="#111"/>
<rect x="265.6" y="894.4" width="12" height="12" fill="#111"/>
<rect x="267.7" y="895.7" width="12" height="12" fill="#111"/>
<rect x="269.7" y="897.0" width="12" height="12" fill="#111"/>
<rect x="271.8" y="898.3" width="12" height="12" fill="#111"/>
<rect x="273.8" y="899.6" width="12" height="12" fill="#111"/>
<rect x="275.9" y="900.9" width="12" height="12" fill="#111"/>
<rect x="277.9" y="902.2" width="12" height="12" fill="#111"/>
<rect x="280.0" y="903.5" width="12" height="12" fill="#111"/>
<rect x="292.2" y="910.5" width="12" height="12" fill="#111"/>
<rect x="302.4" y="917.8" width="12" height="12" fill="#111"/>
<rect x="312.6" y="926.3" width="12" height="12" fill="#111"/>
<rect x="322.9" y="934.2" width="12" height="12" fill="#111"/>
<rect x="333.1" y="941.3" width="12" height="12" fill="#111"/>
<rect x="343.3" y="947.7" width="12" height="12" fill="#111"/>
<rect x="384.3" y="974.8" width="12" height="12" fill="#111"/>
<rect x="404.7" y="988.2" width="12" height="12" fill="#111"/>
<rect x="425.2" y="1001.7" width="12" height="12" fill="#111"/>
<rect x="445.6" y="1015.2" width="12" height="12" fill="#111"/>
<rect x="466.1" y="1028.1" width="12" height="12" fill="#111"/>
<rect x="507.0" y="1056.7" width="12" height="12" fill="#111"/>
<rect x="547.9" y="1080.0" width="12" height="12" fill="#111"/>
<rect x="588.9" y="1107.2" width="12" height="12" fill="#111"/>
<rect x="629.8" y="1135.3" width="12" height="12" fill="#111"/>
<rect x="670.7" y="1159.9" width="12" height="12" fill="#111"/>
<rect x="711.6" y="1187.7" width="12" height="12" fill="#111"/>
<rect x="752.5" y="1212.6" width="12" height="12" fill="#111"/>
<rect x="793.5" y="1234.1" width="12" height="12" fill="#111"/>
<rect x="834.4" y="1252.7" width="12" height="12" fill="#111"/>
<rect x="164.2" y="763.5" width="819.0" height="607.0" fill="none" stroke="#2a2a2a" stroke-width="2.9"/>
<text font-family="'Liberation Sans', sans-serif" font-weight="bold" font-size="35.80" fill="#111" transform="translate(471.74,869.20) scale(1.0250,1)">i=-20.875×10</text>
<text font-family="'Liberation Sans', sans-serif" font-weight="bold" font-size="16.24" fill="#111" transform="translate(691.40,850.94) scale(1.2556,1)">-6</text>
<text font-family="'Liberation Sans', sans-serif" font-weight="bold" font-size="35.80" fill="#111" transform="translate(711.07,869.20) scale(1.0230,1)">c-9.456×10</text>
<text font-family="'Liberation Sans', sans-serif" font-weight="bold" font-size="16.24" fill="#111" transform="translate(898.87,849.64) scale(1.1572,1)">-6</text>
<text font-family="'Liberation Sans', sans-serif" font-weight="bold" font-size="35.80" fill="#111" transform="translate(471.85,913.90) scale(1.0230,1)">R=0.9996</text>
</g>
</svg>
</body></html>
